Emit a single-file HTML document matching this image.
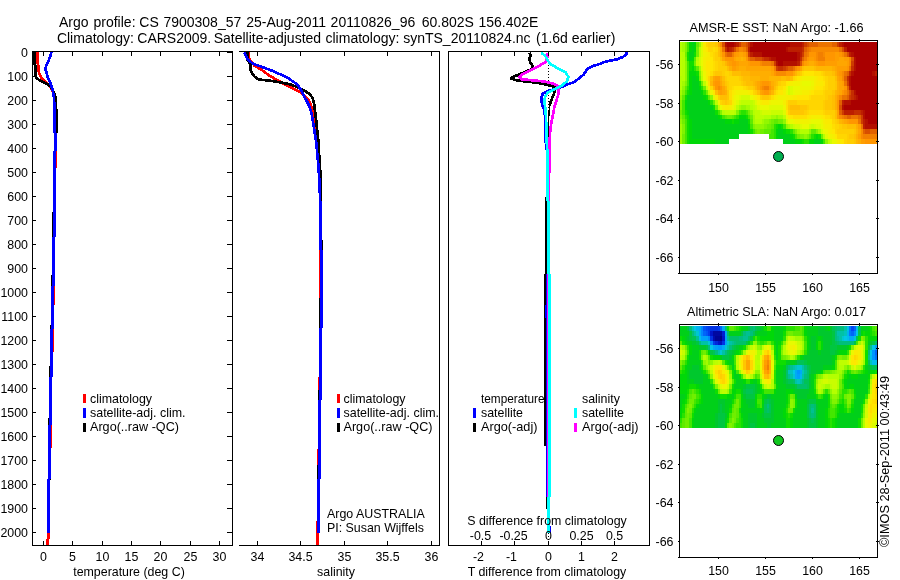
<!DOCTYPE html>
<html lang="en"><head><meta charset="utf-8"><title>Argo profile CS 7900308_57</title>
<style>html,body{margin:0;padding:0;background:#fff;}body{width:900px;height:580px;overflow:hidden;}svg{display:block;font-family:"Liberation Sans", sans-serif;fill:#000;}text{fill:#000;}svg{will-change:transform;}</style></head><body>
<svg width="900" height="580" viewBox="0 0 900 580">
<rect x="0" y="0" width="900" height="580" fill="#fff"/>
<text y="27" font-size="14" xml:space="preserve"><tspan x="59">Argo</tspan> <tspan x="93.5">profile:</tspan> <tspan x="139.3">CS</tspan> <tspan x="163.4">7900308_57</tspan> <tspan x="246.2">25-Aug-2011</tspan> <tspan x="330.6">20110826_96</tspan> <tspan x="421.8">60.802S</tspan> <tspan x="478.5">156.402E</tspan></text>
<text y="43" font-size="14" xml:space="preserve"><tspan x="56.9">Climatology:</tspan> <tspan x="137.3">CARS2009.</tspan> <tspan x="213.7">Satellite-adjusted</tspan> <tspan x="325.5">climatology:</tspan> <tspan x="403.2">synTS_20110824.nc</tspan> <tspan x="536">(1.6d</tspan> <tspan x="571.8">earlier)</tspan></text>
<g shape-rendering="crispEdges">
<polyline points="37.5,52.0 37.5,63.0 38.5,66.0 38.5,71.0 40.0,75.0 42.0,78.5 45.0,81.5 48.0,84.5 51.0,88.0 53.0,92.0 54.5,97.0 55.5,104.0 55.8,133.0" fill="none" stroke="#f00" stroke-width="2.7" stroke-linejoin="round" stroke-linecap="butt" />
<polyline points="34.5,52.0 34.5,64.0 35.5,66.0 35.5,76.0 37.0,78.5 40.0,80.5 44.0,82.5 48.0,84.5 50.5,86.5 52.5,90.0 54.5,94.0 55.8,99.0 56.2,110.0 56.2,133.0" fill="none" stroke="#000" stroke-width="2.7" stroke-linejoin="round" stroke-linecap="butt" />
<polyline points="51.5,52.0 50.0,57.0 48.0,62.0 46.0,66.0 45.5,69.0 46.5,73.0 48.0,78.0 50.0,82.0 51.5,86.0 52.8,91.0 54.0,98.0 54.5,110.0 54.5,133.0" fill="none" stroke="#00f" stroke-width="2.7" stroke-linejoin="round" stroke-linecap="butt" />
<rect x="54" y="133" width="3" height="18" fill="#00f"/>
<rect x="53" y="151" width="3" height="86" fill="#00f"/>
<rect x="52" y="237" width="3" height="49" fill="#00f"/>
<rect x="51" y="286" width="3" height="43" fill="#00f"/>
<rect x="50" y="329" width="3" height="48" fill="#00f"/>
<rect x="49" y="377" width="3" height="48" fill="#00f"/>
<rect x="48" y="425" width="3" height="54" fill="#00f"/>
<rect x="47" y="479" width="3" height="54" fill="#00f"/>
<rect x="56" y="151" width="1" height="17" fill="#f00"/>
<rect x="54" y="286" width="1" height="19" fill="#f00"/>
<rect x="53" y="329" width="1" height="23" fill="#f00"/>
<rect x="51" y="425" width="1" height="23" fill="#f00"/>
<rect x="52" y="212" width="1" height="25" fill="#000"/>
<rect x="51" y="275" width="1" height="11" fill="#000"/>
<rect x="50" y="325" width="1" height="4" fill="#000"/>
<rect x="49" y="366" width="1" height="11" fill="#000"/>
<rect x="48" y="418" width="1" height="7" fill="#000"/>
<rect x="50" y="479" width="1" height="1" fill="#000"/>
<rect x="47" y="533" width="3" height="6" fill="#f00"/>
<rect x="46" y="539" width="3" height="6" fill="#f00"/>
<polyline points="248.4,52.3 248.7,56.6 250.3,60.8 254.6,65.7 261.9,70.0 269.2,75.5 276.6,79.8 283.9,84.0 292.5,88.3 299.8,92.0 305.9,96.9 309.6,101.8 311.8,107.9 313.2,114.0 313.9,118.8 316.3,133.0 318.2,155.0 319.7,178.0 320.5,205.0" fill="none" stroke="#f00" stroke-width="2.7" stroke-linejoin="round" stroke-linecap="butt" />
<polyline points="247.2,52.3 247.2,56.6 247.8,60.2 250.3,63.9 250.3,68.8 252.1,73.7 255.2,77.3 259.4,79.5 271.7,81.0 281.5,82.6 290.0,84.3 297.3,87.1 303.5,90.2 309.6,93.8 312.6,98.1 314.2,104.2 315.1,111.6 316.1,120.0 318.3,140.0 319.5,161.0 320.9,181.0 321.0,202.0" fill="none" stroke="#000" stroke-width="2.7" stroke-linejoin="round" stroke-linecap="butt" />
<polyline points="244.5,52.3 246.0,56.6 248.4,60.2 253.3,63.9 261.9,66.9 271.7,70.6 281.5,74.9 288.8,78.6 294.9,82.8 299.2,87.1 302.8,93.2 305.9,99.3 309.0,105.5 311.4,112.8 312.7,120.0 316.0,140.7 318.0,161.0 319.4,181.0 320.2,201.7 320.5,206.0" fill="none" stroke="#00f" stroke-width="2.7" stroke-linejoin="round" stroke-linecap="butt" />
<rect x="319" y="205" width="3" height="45" fill="#00f"/>
<rect x="320" y="250" width="3" height="78" fill="#00f"/>
<rect x="319" y="328" width="3" height="72" fill="#00f"/>
<rect x="318" y="400" width="3" height="79" fill="#00f"/>
<rect x="317" y="479" width="3" height="54" fill="#00f"/>
<rect x="322" y="240" width="1" height="10" fill="#000"/>
<rect x="319" y="250" width="1" height="48" fill="#f00"/>
<rect x="318" y="377" width="1" height="13" fill="#f00"/>
<rect x="317" y="449" width="1" height="16" fill="#f00"/>
<rect x="316" y="521" width="1" height="12" fill="#f00"/>
<rect x="319" y="298" width="1" height="30" fill="#000"/>
<rect x="318" y="390" width="1" height="10" fill="#000"/>
<rect x="317" y="465" width="1" height="14" fill="#000"/>
<rect x="316" y="533" width="3" height="12" fill="#f00"/>
<rect x="548" y="53" width="1" height="1" fill="#000"/>
<rect x="548" y="56" width="1" height="1" fill="#000"/>
<rect x="548" y="59" width="1" height="1" fill="#000"/>
<rect x="548" y="62" width="1" height="1" fill="#000"/>
<rect x="548" y="65" width="1" height="1" fill="#000"/>
<rect x="548" y="68" width="1" height="1" fill="#000"/>
<rect x="548" y="71" width="1" height="1" fill="#000"/>
<rect x="548" y="74" width="1" height="1" fill="#000"/>
<rect x="548" y="77" width="1" height="1" fill="#000"/>
<rect x="548" y="80" width="1" height="1" fill="#000"/>
<rect x="548" y="83" width="1" height="1" fill="#000"/>
<rect x="548" y="86" width="1" height="1" fill="#000"/>
<rect x="548" y="89" width="1" height="1" fill="#000"/>
<rect x="548" y="92" width="1" height="1" fill="#000"/>
<rect x="548" y="95" width="1" height="1" fill="#000"/>
<rect x="548" y="98" width="1" height="1" fill="#000"/>
<rect x="548" y="101" width="1" height="1" fill="#000"/>
<rect x="548" y="104" width="1" height="1" fill="#000"/>
<rect x="548" y="107" width="1" height="1" fill="#000"/>
<rect x="548" y="110" width="1" height="1" fill="#000"/>
<rect x="548" y="113" width="1" height="1" fill="#000"/>
<rect x="548" y="116" width="1" height="1" fill="#000"/>
<rect x="548" y="119" width="1" height="1" fill="#000"/>
<rect x="548" y="122" width="1" height="1" fill="#000"/>
<rect x="548" y="125" width="1" height="1" fill="#000"/>
<rect x="548" y="128" width="1" height="1" fill="#000"/>
<rect x="548" y="131" width="1" height="1" fill="#000"/>
<rect x="548" y="134" width="1" height="1" fill="#000"/>
<rect x="548" y="137" width="1" height="1" fill="#000"/>
<rect x="548" y="140" width="1" height="1" fill="#000"/>
<rect x="548" y="143" width="1" height="1" fill="#000"/>
<rect x="548" y="146" width="1" height="1" fill="#000"/>
<rect x="548" y="149" width="1" height="1" fill="#000"/>
<rect x="548" y="152" width="1" height="1" fill="#000"/>
<rect x="548" y="155" width="1" height="1" fill="#000"/>
<rect x="548" y="158" width="1" height="1" fill="#000"/>
<rect x="548" y="161" width="1" height="1" fill="#000"/>
<rect x="548" y="164" width="1" height="1" fill="#000"/>
<rect x="548" y="167" width="1" height="1" fill="#000"/>
<rect x="548" y="170" width="1" height="1" fill="#000"/>
<rect x="548" y="173" width="1" height="1" fill="#000"/>
<rect x="548" y="176" width="1" height="1" fill="#000"/>
<rect x="548" y="179" width="1" height="1" fill="#000"/>
<rect x="548" y="182" width="1" height="1" fill="#000"/>
<rect x="548" y="185" width="1" height="1" fill="#000"/>
<rect x="548" y="188" width="1" height="1" fill="#000"/>
<rect x="548" y="191" width="1" height="1" fill="#000"/>
<rect x="548" y="194" width="1" height="1" fill="#000"/>
<rect x="548" y="197" width="1" height="1" fill="#000"/>
<rect x="548" y="200" width="1" height="1" fill="#000"/>
<rect x="548" y="203" width="1" height="1" fill="#000"/>
<rect x="548" y="206" width="1" height="1" fill="#000"/>
<rect x="548" y="209" width="1" height="1" fill="#000"/>
<rect x="548" y="212" width="1" height="1" fill="#000"/>
<rect x="548" y="215" width="1" height="1" fill="#000"/>
<rect x="548" y="218" width="1" height="1" fill="#000"/>
<rect x="548" y="221" width="1" height="1" fill="#000"/>
<rect x="548" y="224" width="1" height="1" fill="#000"/>
<rect x="548" y="227" width="1" height="1" fill="#000"/>
<rect x="548" y="230" width="1" height="1" fill="#000"/>
<rect x="548" y="233" width="1" height="1" fill="#000"/>
<rect x="548" y="236" width="1" height="1" fill="#000"/>
<rect x="548" y="239" width="1" height="1" fill="#000"/>
<rect x="548" y="242" width="1" height="1" fill="#000"/>
<rect x="548" y="245" width="1" height="1" fill="#000"/>
<rect x="548" y="248" width="1" height="1" fill="#000"/>
<rect x="548" y="251" width="1" height="1" fill="#000"/>
<rect x="548" y="254" width="1" height="1" fill="#000"/>
<rect x="548" y="257" width="1" height="1" fill="#000"/>
<rect x="548" y="260" width="1" height="1" fill="#000"/>
<rect x="548" y="263" width="1" height="1" fill="#000"/>
<rect x="548" y="266" width="1" height="1" fill="#000"/>
<rect x="548" y="269" width="1" height="1" fill="#000"/>
<rect x="548" y="272" width="1" height="1" fill="#000"/>
<rect x="548" y="275" width="1" height="1" fill="#000"/>
<rect x="548" y="278" width="1" height="1" fill="#000"/>
<rect x="548" y="281" width="1" height="1" fill="#000"/>
<rect x="548" y="284" width="1" height="1" fill="#000"/>
<rect x="548" y="287" width="1" height="1" fill="#000"/>
<rect x="548" y="290" width="1" height="1" fill="#000"/>
<rect x="548" y="293" width="1" height="1" fill="#000"/>
<rect x="548" y="296" width="1" height="1" fill="#000"/>
<rect x="548" y="299" width="1" height="1" fill="#000"/>
<rect x="548" y="302" width="1" height="1" fill="#000"/>
<rect x="548" y="305" width="1" height="1" fill="#000"/>
<rect x="548" y="308" width="1" height="1" fill="#000"/>
<rect x="548" y="311" width="1" height="1" fill="#000"/>
<rect x="548" y="314" width="1" height="1" fill="#000"/>
<rect x="548" y="317" width="1" height="1" fill="#000"/>
<rect x="548" y="320" width="1" height="1" fill="#000"/>
<rect x="548" y="323" width="1" height="1" fill="#000"/>
<rect x="548" y="326" width="1" height="1" fill="#000"/>
<rect x="548" y="329" width="1" height="1" fill="#000"/>
<rect x="548" y="332" width="1" height="1" fill="#000"/>
<rect x="548" y="335" width="1" height="1" fill="#000"/>
<rect x="548" y="338" width="1" height="1" fill="#000"/>
<rect x="548" y="341" width="1" height="1" fill="#000"/>
<rect x="548" y="344" width="1" height="1" fill="#000"/>
<rect x="548" y="347" width="1" height="1" fill="#000"/>
<rect x="548" y="350" width="1" height="1" fill="#000"/>
<rect x="548" y="353" width="1" height="1" fill="#000"/>
<rect x="548" y="356" width="1" height="1" fill="#000"/>
<rect x="548" y="359" width="1" height="1" fill="#000"/>
<rect x="548" y="362" width="1" height="1" fill="#000"/>
<rect x="548" y="365" width="1" height="1" fill="#000"/>
<rect x="548" y="368" width="1" height="1" fill="#000"/>
<rect x="548" y="371" width="1" height="1" fill="#000"/>
<rect x="548" y="374" width="1" height="1" fill="#000"/>
<rect x="548" y="377" width="1" height="1" fill="#000"/>
<rect x="548" y="380" width="1" height="1" fill="#000"/>
<rect x="548" y="383" width="1" height="1" fill="#000"/>
<rect x="548" y="386" width="1" height="1" fill="#000"/>
<rect x="548" y="389" width="1" height="1" fill="#000"/>
<rect x="548" y="392" width="1" height="1" fill="#000"/>
<rect x="548" y="395" width="1" height="1" fill="#000"/>
<rect x="548" y="398" width="1" height="1" fill="#000"/>
<rect x="548" y="401" width="1" height="1" fill="#000"/>
<rect x="548" y="404" width="1" height="1" fill="#000"/>
<rect x="548" y="407" width="1" height="1" fill="#000"/>
<rect x="548" y="410" width="1" height="1" fill="#000"/>
<rect x="548" y="413" width="1" height="1" fill="#000"/>
<rect x="548" y="416" width="1" height="1" fill="#000"/>
<rect x="548" y="419" width="1" height="1" fill="#000"/>
<rect x="548" y="422" width="1" height="1" fill="#000"/>
<rect x="548" y="425" width="1" height="1" fill="#000"/>
<rect x="548" y="428" width="1" height="1" fill="#000"/>
<rect x="548" y="431" width="1" height="1" fill="#000"/>
<rect x="548" y="434" width="1" height="1" fill="#000"/>
<rect x="548" y="437" width="1" height="1" fill="#000"/>
<rect x="548" y="440" width="1" height="1" fill="#000"/>
<rect x="548" y="443" width="1" height="1" fill="#000"/>
<rect x="548" y="446" width="1" height="1" fill="#000"/>
<rect x="548" y="449" width="1" height="1" fill="#000"/>
<rect x="548" y="452" width="1" height="1" fill="#000"/>
<rect x="548" y="455" width="1" height="1" fill="#000"/>
<rect x="548" y="458" width="1" height="1" fill="#000"/>
<rect x="548" y="461" width="1" height="1" fill="#000"/>
<rect x="548" y="464" width="1" height="1" fill="#000"/>
<rect x="548" y="467" width="1" height="1" fill="#000"/>
<rect x="548" y="470" width="1" height="1" fill="#000"/>
<rect x="548" y="473" width="1" height="1" fill="#000"/>
<rect x="548" y="476" width="1" height="1" fill="#000"/>
<rect x="548" y="479" width="1" height="1" fill="#000"/>
<rect x="548" y="482" width="1" height="1" fill="#000"/>
<rect x="548" y="485" width="1" height="1" fill="#000"/>
<rect x="548" y="488" width="1" height="1" fill="#000"/>
<rect x="548" y="491" width="1" height="1" fill="#000"/>
<rect x="548" y="494" width="1" height="1" fill="#000"/>
<rect x="548" y="497" width="1" height="1" fill="#000"/>
<rect x="548" y="500" width="1" height="1" fill="#000"/>
<rect x="548" y="503" width="1" height="1" fill="#000"/>
<rect x="548" y="506" width="1" height="1" fill="#000"/>
<rect x="548" y="509" width="1" height="1" fill="#000"/>
<rect x="548" y="512" width="1" height="1" fill="#000"/>
<rect x="548" y="515" width="1" height="1" fill="#000"/>
<rect x="548" y="518" width="1" height="1" fill="#000"/>
<rect x="548" y="521" width="1" height="1" fill="#000"/>
<rect x="548" y="524" width="1" height="1" fill="#000"/>
<rect x="548" y="527" width="1" height="1" fill="#000"/>
<rect x="548" y="530" width="1" height="1" fill="#000"/>
<rect x="548" y="533" width="1" height="1" fill="#000"/>
<rect x="548" y="536" width="1" height="1" fill="#000"/>
<rect x="548" y="539" width="1" height="1" fill="#000"/>
<rect x="548" y="542" width="1" height="1" fill="#000"/>
<polyline points="529.5,52.7 530.8,55.0 529.0,58.9 530.5,62.8 532.9,66.7 532.0,69.0 526.0,71.5 520.2,74.0 514.0,76.5 510.9,78.5 515.5,80.0 519.0,80.7 530.5,82.0 542.0,83.6 548.5,85.0 554.0,86.6 555.4,88.6 554.2,93.1 552.3,97.8 550.6,102.4 549.8,106.0" fill="none" stroke="#000" stroke-width="2.7" stroke-linejoin="round" stroke-linecap="butt" />
<polyline points="549.3,105.0 548.8,120.0 548.5,138.0 547.0,170.0 546.0,201.0" fill="none" stroke="#000" stroke-width="1.2" stroke-linejoin="round" stroke-linecap="butt" />
<polyline points="626.8,52.0 626.4,54.7 622.8,57.0 617.4,59.2 610.2,60.6 604.8,61.9 599.5,64.1 593.2,65.9 588.7,68.2 586.0,70.9 583.8,74.5 579.7,77.6 576.1,80.7 571.7,83.0 566.3,84.8 561.8,87.0 557.5,88.3 548.2,90.8 542.8,93.9 541.2,97.8 542.0,104.0 544.3,110.2 545.1,116.4 545.4,138.0 546.5,150.0" fill="none" stroke="#00f" stroke-width="2.7" stroke-linejoin="round" stroke-linecap="butt" />
<polyline points="547.4,52.7 547.4,57.3 545.9,62.0 538.9,65.9 531.1,69.8 523.3,73.7 519.4,76.8 521.0,79.1 531.1,80.2 543.5,81.4 552.9,83.5 558.3,86.1 558.8,93.1 556.8,99.3 554.4,107.1 552.9,114.9 551.3,122.6 550.1,132.0 549.5,145.0 549.3,165.0 548.7,201.0" fill="none" stroke="#f0f" stroke-width="2.7" stroke-linejoin="round" stroke-linecap="butt" />
<rect x="545" y="201" width="2" height="73" fill="#000"/>
<rect x="544" y="274" width="2" height="172" fill="#000"/>
<rect x="546" y="446" width="1" height="63" fill="#000"/>
<rect x="546" y="274" width="2" height="223" fill="#00f"/>
<rect x="545" y="305" width="2" height="13" fill="#00f"/>
<rect x="547" y="274" width="1" height="223" fill="#f0f"/>
<rect x="549" y="236" width="1" height="6" fill="#f0f"/>
<polyline points="541.2,52.7 545.1,55.8 547.4,59.7 549.8,63.5 557.5,68.2 565.3,72.1 568.4,76.8 566.9,81.4 562.2,85.3 554.4,89.2 548.2,92.3 545.1,96.2 544.3,100.9 545.1,107.0 545.9,114.9 546.3,125.8 546.5,138.0 547.2,150.0" fill="none" stroke="#0ff" stroke-width="2.7" stroke-linejoin="round" stroke-linecap="butt" />
<rect x="546" y="150" width="3" height="51" fill="#0ff"/>
<rect x="547" y="201" width="3" height="73" fill="#0ff"/>
<rect x="548" y="274" width="3" height="223" fill="#0ff"/>
<rect x="547" y="497" width="3" height="36" fill="#0ff"/>
<rect x="550" y="526" width="1" height="7" fill="#00f"/>
</g>
<g shape-rendering="crispEdges">
<rect x="32" y="51" width="201" height="1" fill="#000"/>
<rect x="32" y="545" width="200" height="1" fill="#000"/>
<rect x="32" y="51" width="1" height="495" fill="#000"/>
<rect x="232" y="51" width="1" height="495" fill="#000"/>
<rect x="32" y="52" width="4" height="1" fill="#000"/>
<rect x="227" y="52" width="6" height="1" fill="#000"/>
<rect x="32" y="76" width="4" height="1" fill="#000"/>
<rect x="227" y="76" width="6" height="1" fill="#000"/>
<rect x="32" y="100" width="4" height="1" fill="#000"/>
<rect x="227" y="100" width="6" height="1" fill="#000"/>
<rect x="32" y="124" width="4" height="1" fill="#000"/>
<rect x="227" y="124" width="6" height="1" fill="#000"/>
<rect x="32" y="148" width="4" height="1" fill="#000"/>
<rect x="227" y="148" width="6" height="1" fill="#000"/>
<rect x="32" y="172" width="4" height="1" fill="#000"/>
<rect x="227" y="172" width="6" height="1" fill="#000"/>
<rect x="32" y="196" width="4" height="1" fill="#000"/>
<rect x="227" y="196" width="6" height="1" fill="#000"/>
<rect x="32" y="220" width="4" height="1" fill="#000"/>
<rect x="227" y="220" width="6" height="1" fill="#000"/>
<rect x="32" y="244" width="4" height="1" fill="#000"/>
<rect x="227" y="244" width="6" height="1" fill="#000"/>
<rect x="32" y="268" width="4" height="1" fill="#000"/>
<rect x="227" y="268" width="6" height="1" fill="#000"/>
<rect x="32" y="292" width="4" height="1" fill="#000"/>
<rect x="227" y="292" width="6" height="1" fill="#000"/>
<rect x="32" y="316" width="4" height="1" fill="#000"/>
<rect x="227" y="316" width="6" height="1" fill="#000"/>
<rect x="32" y="340" width="4" height="1" fill="#000"/>
<rect x="227" y="340" width="6" height="1" fill="#000"/>
<rect x="32" y="364" width="4" height="1" fill="#000"/>
<rect x="227" y="364" width="6" height="1" fill="#000"/>
<rect x="32" y="388" width="4" height="1" fill="#000"/>
<rect x="227" y="388" width="6" height="1" fill="#000"/>
<rect x="32" y="412" width="4" height="1" fill="#000"/>
<rect x="227" y="412" width="6" height="1" fill="#000"/>
<rect x="32" y="436" width="4" height="1" fill="#000"/>
<rect x="227" y="436" width="6" height="1" fill="#000"/>
<rect x="32" y="460" width="4" height="1" fill="#000"/>
<rect x="227" y="460" width="6" height="1" fill="#000"/>
<rect x="32" y="484" width="4" height="1" fill="#000"/>
<rect x="227" y="484" width="6" height="1" fill="#000"/>
<rect x="32" y="508" width="4" height="1" fill="#000"/>
<rect x="227" y="508" width="6" height="1" fill="#000"/>
<rect x="32" y="532" width="4" height="1" fill="#000"/>
<rect x="227" y="532" width="6" height="1" fill="#000"/>
<rect x="43" y="51" width="1" height="5" fill="#000"/>
<rect x="43" y="541" width="1" height="5" fill="#000"/>
<rect x="72" y="51" width="1" height="5" fill="#000"/>
<rect x="72" y="541" width="1" height="5" fill="#000"/>
<rect x="102" y="51" width="1" height="5" fill="#000"/>
<rect x="102" y="541" width="1" height="5" fill="#000"/>
<rect x="131" y="51" width="1" height="5" fill="#000"/>
<rect x="131" y="541" width="1" height="5" fill="#000"/>
<rect x="160" y="51" width="1" height="5" fill="#000"/>
<rect x="160" y="541" width="1" height="5" fill="#000"/>
<rect x="190" y="51" width="1" height="5" fill="#000"/>
<rect x="190" y="541" width="1" height="5" fill="#000"/>
<rect x="219" y="51" width="1" height="5" fill="#000"/>
<rect x="219" y="541" width="1" height="5" fill="#000"/>
<rect x="239" y="51" width="201" height="1" fill="#000"/>
<rect x="239" y="545" width="200" height="1" fill="#000"/>
<rect x="439" y="51" width="1" height="495" fill="#000"/>
<rect x="257" y="51" width="1" height="5" fill="#000"/>
<rect x="257" y="541" width="1" height="5" fill="#000"/>
<rect x="300" y="51" width="1" height="5" fill="#000"/>
<rect x="300" y="541" width="1" height="5" fill="#000"/>
<rect x="344" y="51" width="1" height="5" fill="#000"/>
<rect x="344" y="541" width="1" height="5" fill="#000"/>
<rect x="387" y="51" width="1" height="5" fill="#000"/>
<rect x="387" y="541" width="1" height="5" fill="#000"/>
<rect x="431" y="51" width="1" height="5" fill="#000"/>
<rect x="431" y="541" width="1" height="5" fill="#000"/>
<rect x="448" y="51" width="202" height="1" fill="#000"/>
<rect x="448" y="545" width="201" height="1" fill="#000"/>
<rect x="448" y="51" width="1" height="495" fill="#000"/>
<rect x="649" y="51" width="1" height="495" fill="#000"/>
<rect x="481" y="51" width="1" height="5" fill="#000"/>
<rect x="481" y="541" width="1" height="5" fill="#000"/>
<rect x="514" y="51" width="1" height="5" fill="#000"/>
<rect x="514" y="541" width="1" height="5" fill="#000"/>
<rect x="548" y="51" width="1" height="5" fill="#000"/>
<rect x="548" y="541" width="1" height="5" fill="#000"/>
<rect x="581" y="51" width="1" height="5" fill="#000"/>
<rect x="581" y="541" width="1" height="5" fill="#000"/>
<rect x="614" y="51" width="1" height="5" fill="#000"/>
<rect x="614" y="541" width="1" height="5" fill="#000"/>
</g>
<text x="28" y="56.5" font-size="12.4" text-anchor="end" >0</text>
<text x="28" y="80.5" font-size="12.4" text-anchor="end" >100</text>
<text x="28" y="104.5" font-size="12.4" text-anchor="end" >200</text>
<text x="28" y="128.5" font-size="12.4" text-anchor="end" >300</text>
<text x="28" y="152.5" font-size="12.4" text-anchor="end" >400</text>
<text x="28" y="176.5" font-size="12.4" text-anchor="end" >500</text>
<text x="28" y="200.5" font-size="12.4" text-anchor="end" >600</text>
<text x="28" y="224.5" font-size="12.4" text-anchor="end" >700</text>
<text x="28" y="248.5" font-size="12.4" text-anchor="end" >800</text>
<text x="28" y="272.5" font-size="12.4" text-anchor="end" >900</text>
<text x="28" y="296.5" font-size="12.4" text-anchor="end" >1000</text>
<text x="28" y="320.5" font-size="12.4" text-anchor="end" >1100</text>
<text x="28" y="344.5" font-size="12.4" text-anchor="end" >1200</text>
<text x="28" y="368.5" font-size="12.4" text-anchor="end" >1300</text>
<text x="28" y="392.5" font-size="12.4" text-anchor="end" >1400</text>
<text x="28" y="416.5" font-size="12.4" text-anchor="end" >1500</text>
<text x="28" y="440.5" font-size="12.4" text-anchor="end" >1600</text>
<text x="28" y="464.5" font-size="12.4" text-anchor="end" >1700</text>
<text x="28" y="488.5" font-size="12.4" text-anchor="end" >1800</text>
<text x="28" y="512.5" font-size="12.4" text-anchor="end" >1900</text>
<text x="28" y="536.5" font-size="12.4" text-anchor="end" >2000</text>
<text x="43.5" y="561" font-size="12.4" text-anchor="middle" >0</text>
<text x="72.5" y="561" font-size="12.4" text-anchor="middle" >5</text>
<text x="102.5" y="561" font-size="12.4" text-anchor="middle" >10</text>
<text x="131.5" y="561" font-size="12.4" text-anchor="middle" >15</text>
<text x="160.5" y="561" font-size="12.4" text-anchor="middle" >20</text>
<text x="190.5" y="561" font-size="12.4" text-anchor="middle" >25</text>
<text x="219.5" y="561" font-size="12.4" text-anchor="middle" >30</text>
<text x="257.5" y="561" font-size="12.4" text-anchor="middle" >34</text>
<text x="300.5" y="561" font-size="12.4" text-anchor="middle" >34.5</text>
<text x="344.5" y="561" font-size="12.4" text-anchor="middle" >35</text>
<text x="387.5" y="561" font-size="12.4" text-anchor="middle" >35.5</text>
<text x="431.5" y="561" font-size="12.4" text-anchor="middle" >36</text>
<text x="478.5" y="561" font-size="12.4" text-anchor="middle" >-2</text>
<text x="511.5" y="561" font-size="12.4" text-anchor="middle" >-1</text>
<text x="548.5" y="561" font-size="12.4" text-anchor="middle" >0</text>
<text x="581.5" y="561" font-size="12.4" text-anchor="middle" >1</text>
<text x="614.5" y="561" font-size="12.4" text-anchor="middle" >2</text>
<text x="129" y="576" font-size="12.4" text-anchor="middle" >temperature (deg C)</text>
<text x="336" y="576" font-size="12.4" text-anchor="middle" >salinity</text>
<text x="547" y="576" font-size="12.4" text-anchor="middle" >T difference from climatology</text>
<text x="547" y="525" font-size="12.4" text-anchor="middle" >S difference from climatology</text>
<text x="480.5" y="539.5" font-size="12.4" text-anchor="middle" >-0.5</text>
<text x="513.5" y="539.5" font-size="12.4" text-anchor="middle" >-0.25</text>
<text x="548.5" y="539.5" font-size="12.4" text-anchor="middle" >0</text>
<text x="581.5" y="539.5" font-size="12.4" text-anchor="middle" >0.25</text>
<text x="614.5" y="539.5" font-size="12.4" text-anchor="middle" >0.5</text>
<g shape-rendering="crispEdges">
<rect x="83" y="394" width="3" height="9" fill="#f00"/>
<rect x="83" y="408" width="3" height="10" fill="#00f"/>
<rect x="83" y="423" width="3" height="9" fill="#000"/>
<rect x="337" y="394" width="3" height="9" fill="#f00"/>
<rect x="337" y="408" width="3" height="10" fill="#00f"/>
<rect x="337" y="423" width="3" height="9" fill="#000"/>
<rect x="473" y="408" width="3" height="10" fill="#00f"/>
<rect x="473" y="423" width="3" height="9" fill="#000"/>
<rect x="574" y="408" width="3" height="10" fill="#0ff"/>
<rect x="574" y="423" width="3" height="9" fill="#f0f"/>
</g>
<text x="90" y="403.4" font-size="12.4" text-anchor="start" >climatology</text>
<text x="90" y="417.4" font-size="12.4" text-anchor="start" textLength="95.5" lengthAdjust="spacingAndGlyphs">satellite-adj. clim.</text>
<text x="90" y="431.4" font-size="12.4" text-anchor="start" textLength="89" lengthAdjust="spacingAndGlyphs">Argo(..raw -QC)</text>
<text x="343.5" y="403.4" font-size="12.4" text-anchor="start" >climatology</text>
<text x="343.5" y="417.4" font-size="12.4" text-anchor="start" textLength="95.5" lengthAdjust="spacingAndGlyphs">satellite-adj. clim.</text>
<text x="343.5" y="431.4" font-size="12.4" text-anchor="start" textLength="89" lengthAdjust="spacingAndGlyphs">Argo(..raw -QC)</text>
<text x="481" y="403.4" font-size="12.4" text-anchor="start" textLength="63.5" lengthAdjust="spacingAndGlyphs">temperature</text>
<text x="481" y="417.4" font-size="12.4" text-anchor="start" >satellite</text>
<text x="481" y="431.4" font-size="12.4" text-anchor="start" textLength="56.5" lengthAdjust="spacingAndGlyphs">Argo(-adj)</text>
<text x="582" y="403.4" font-size="12.4" text-anchor="start" >salinity</text>
<text x="582" y="417.4" font-size="12.4" text-anchor="start" >satellite</text>
<text x="582" y="431.4" font-size="12.4" text-anchor="start" textLength="56.5" lengthAdjust="spacingAndGlyphs">Argo(-adj)</text>
<text x="327" y="518" font-size="12.4" text-anchor="start" >Argo AUSTRALIA</text>
<text x="327" y="532" font-size="12.4" text-anchor="start" >PI: Susan Wijffels</text>
<g shape-rendering="crispEdges">
<rect x="680" y="42" width="2" height="5" fill="#b4ff00"/>
<rect x="682" y="42" width="3" height="5" fill="#a3fb00"/>
<rect x="685" y="42" width="2" height="5" fill="#81f300"/>
<rect x="687" y="42" width="2" height="5" fill="#44e700"/>
<rect x="689" y="42" width="3" height="5" fill="#00d808"/>
<rect x="692" y="42" width="2" height="5" fill="#00d019"/>
<rect x="694" y="42" width="2" height="5" fill="#00d808"/>
<rect x="696" y="42" width="3" height="5" fill="#5feb00"/>
<rect x="699" y="42" width="2" height="5" fill="#92f700"/>
<rect x="701" y="42" width="2" height="5" fill="#d3fc00"/>
<rect x="703" y="42" width="3" height="5" fill="#faea00"/>
<rect x="706" y="42" width="2" height="5" fill="#ffd600"/>
<rect x="708" y="42" width="7" height="5" fill="#ffce00"/>
<rect x="715" y="42" width="3" height="5" fill="#ffc600"/>
<rect x="718" y="42" width="2" height="5" fill="#ffa600"/>
<rect x="720" y="42" width="2" height="5" fill="#f88a00"/>
<rect x="722" y="42" width="3" height="5" fill="#d74e00"/>
<rect x="725" y="42" width="2" height="5" fill="#b30f00"/>
<rect x="727" y="42" width="7" height="5" fill="#aa0000"/>
<rect x="734" y="42" width="2" height="5" fill="#b30f00"/>
<rect x="736" y="42" width="3" height="5" fill="#bc1e00"/>
<rect x="739" y="42" width="2" height="5" fill="#cd3c00"/>
<rect x="741" y="42" width="5" height="5" fill="#e16100"/>
<rect x="746" y="42" width="2" height="5" fill="#d74e00"/>
<rect x="748" y="42" width="2" height="5" fill="#c42d00"/>
<rect x="750" y="42" width="3" height="5" fill="#b30f00"/>
<rect x="753" y="42" width="37" height="5" fill="#aa0000"/>
<rect x="790" y="42" width="12" height="5" fill="#b30f00"/>
<rect x="802" y="42" width="2" height="5" fill="#bc1e00"/>
<rect x="804" y="42" width="3" height="5" fill="#cd3c00"/>
<rect x="807" y="42" width="2" height="5" fill="#d74e00"/>
<rect x="809" y="42" width="9" height="5" fill="#e16100"/>
<rect x="818" y="42" width="14" height="5" fill="#eb7300"/>
<rect x="832" y="42" width="5" height="5" fill="#e16100"/>
<rect x="837" y="42" width="2" height="5" fill="#cd3c00"/>
<rect x="839" y="42" width="3" height="5" fill="#bc1e00"/>
<rect x="842" y="42" width="2" height="5" fill="#b30f00"/>
<rect x="844" y="42" width="33" height="5" fill="#aa0000"/>
<rect x="680" y="47" width="2" height="5" fill="#b4ff00"/>
<rect x="682" y="47" width="3" height="5" fill="#a3fb00"/>
<rect x="685" y="47" width="2" height="5" fill="#81f300"/>
<rect x="687" y="47" width="2" height="5" fill="#44e700"/>
<rect x="689" y="47" width="3" height="5" fill="#00d808"/>
<rect x="692" y="47" width="2" height="5" fill="#00d019"/>
<rect x="694" y="47" width="2" height="5" fill="#00d808"/>
<rect x="696" y="47" width="3" height="5" fill="#70ef00"/>
<rect x="699" y="47" width="2" height="5" fill="#befe00"/>
<rect x="701" y="47" width="2" height="5" fill="#defb00"/>
<rect x="703" y="47" width="3" height="5" fill="#f6ee00"/>
<rect x="706" y="47" width="2" height="5" fill="#ffe600"/>
<rect x="708" y="47" width="5" height="5" fill="#ffd600"/>
<rect x="713" y="47" width="2" height="5" fill="#ffde00"/>
<rect x="715" y="47" width="3" height="5" fill="#ffd600"/>
<rect x="718" y="47" width="2" height="5" fill="#ffbe00"/>
<rect x="720" y="47" width="2" height="5" fill="#ffa600"/>
<rect x="722" y="47" width="3" height="5" fill="#eb7300"/>
<rect x="725" y="47" width="2" height="5" fill="#c42d00"/>
<rect x="727" y="47" width="2" height="5" fill="#b30f00"/>
<rect x="729" y="47" width="3" height="5" fill="#bc1e00"/>
<rect x="732" y="47" width="2" height="5" fill="#c42d00"/>
<rect x="734" y="47" width="2" height="5" fill="#d74e00"/>
<rect x="736" y="47" width="3" height="5" fill="#eb7300"/>
<rect x="739" y="47" width="4" height="5" fill="#f88a00"/>
<rect x="743" y="47" width="3" height="5" fill="#f27f00"/>
<rect x="746" y="47" width="2" height="5" fill="#e16100"/>
<rect x="748" y="47" width="2" height="5" fill="#bc1e00"/>
<rect x="750" y="47" width="36" height="5" fill="#aa0000"/>
<rect x="786" y="47" width="2" height="5" fill="#b30f00"/>
<rect x="788" y="47" width="14" height="5" fill="#bc1e00"/>
<rect x="802" y="47" width="2" height="5" fill="#c42d00"/>
<rect x="804" y="47" width="3" height="5" fill="#e16100"/>
<rect x="807" y="47" width="2" height="5" fill="#eb7300"/>
<rect x="809" y="47" width="2" height="5" fill="#f27f00"/>
<rect x="811" y="47" width="28" height="5" fill="#f88a00"/>
<rect x="839" y="47" width="3" height="5" fill="#eb7300"/>
<rect x="842" y="47" width="2" height="5" fill="#d74e00"/>
<rect x="844" y="47" width="3" height="5" fill="#bc1e00"/>
<rect x="847" y="47" width="30" height="5" fill="#aa0000"/>
<rect x="680" y="52" width="2" height="5" fill="#befe00"/>
<rect x="682" y="52" width="3" height="5" fill="#b4ff00"/>
<rect x="685" y="52" width="2" height="5" fill="#70ef00"/>
<rect x="687" y="52" width="2" height="5" fill="#0ede00"/>
<rect x="689" y="52" width="5" height="5" fill="#00d019"/>
<rect x="694" y="52" width="2" height="5" fill="#0ede00"/>
<rect x="696" y="52" width="3" height="5" fill="#70ef00"/>
<rect x="699" y="52" width="2" height="5" fill="#befe00"/>
<rect x="701" y="52" width="2" height="5" fill="#defb00"/>
<rect x="703" y="52" width="3" height="5" fill="#f1f200"/>
<rect x="706" y="52" width="2" height="5" fill="#f6ee00"/>
<rect x="708" y="52" width="2" height="5" fill="#faea00"/>
<rect x="710" y="52" width="3" height="5" fill="#ffde00"/>
<rect x="713" y="52" width="2" height="5" fill="#ffd600"/>
<rect x="715" y="52" width="3" height="5" fill="#ffce00"/>
<rect x="718" y="52" width="2" height="5" fill="#ffbe00"/>
<rect x="720" y="52" width="2" height="5" fill="#ffae00"/>
<rect x="722" y="52" width="3" height="5" fill="#ff9600"/>
<rect x="725" y="52" width="2" height="5" fill="#eb7300"/>
<rect x="727" y="52" width="5" height="5" fill="#e16100"/>
<rect x="732" y="52" width="2" height="5" fill="#f27f00"/>
<rect x="734" y="52" width="2" height="5" fill="#ff9600"/>
<rect x="736" y="52" width="3" height="5" fill="#ff9e00"/>
<rect x="739" y="52" width="4" height="5" fill="#ffa600"/>
<rect x="743" y="52" width="3" height="5" fill="#ff9e00"/>
<rect x="746" y="52" width="2" height="5" fill="#f88a00"/>
<rect x="748" y="52" width="2" height="5" fill="#cd3c00"/>
<rect x="750" y="52" width="3" height="5" fill="#bc1e00"/>
<rect x="753" y="52" width="9" height="5" fill="#b30f00"/>
<rect x="762" y="52" width="35" height="5" fill="#aa0000"/>
<rect x="797" y="52" width="3" height="5" fill="#b30f00"/>
<rect x="800" y="52" width="2" height="5" fill="#bc1e00"/>
<rect x="802" y="52" width="2" height="5" fill="#cd3c00"/>
<rect x="804" y="52" width="3" height="5" fill="#eb7300"/>
<rect x="807" y="52" width="2" height="5" fill="#f27f00"/>
<rect x="809" y="52" width="7" height="5" fill="#ff9600"/>
<rect x="816" y="52" width="2" height="5" fill="#f88a00"/>
<rect x="818" y="52" width="5" height="5" fill="#f27f00"/>
<rect x="823" y="52" width="2" height="5" fill="#f88a00"/>
<rect x="825" y="52" width="10" height="5" fill="#ff9600"/>
<rect x="835" y="52" width="4" height="5" fill="#ff9e00"/>
<rect x="839" y="52" width="3" height="5" fill="#ff9600"/>
<rect x="842" y="52" width="2" height="5" fill="#f88a00"/>
<rect x="844" y="52" width="3" height="5" fill="#eb7300"/>
<rect x="847" y="52" width="2" height="5" fill="#d74e00"/>
<rect x="849" y="52" width="2" height="5" fill="#bc1e00"/>
<rect x="851" y="52" width="3" height="5" fill="#b30f00"/>
<rect x="854" y="52" width="23" height="5" fill="#aa0000"/>
<rect x="680" y="57" width="2" height="4" fill="#befe00"/>
<rect x="682" y="57" width="3" height="4" fill="#b4ff00"/>
<rect x="685" y="57" width="2" height="4" fill="#81f300"/>
<rect x="687" y="57" width="2" height="4" fill="#0ede00"/>
<rect x="689" y="57" width="3" height="4" fill="#00d019"/>
<rect x="692" y="57" width="2" height="4" fill="#00d808"/>
<rect x="694" y="57" width="2" height="4" fill="#5feb00"/>
<rect x="696" y="57" width="3" height="4" fill="#b4ff00"/>
<rect x="699" y="57" width="2" height="4" fill="#d3fc00"/>
<rect x="701" y="57" width="2" height="4" fill="#e8fa00"/>
<rect x="703" y="57" width="3" height="4" fill="#f6ee00"/>
<rect x="706" y="57" width="4" height="4" fill="#faea00"/>
<rect x="710" y="57" width="3" height="4" fill="#ffe600"/>
<rect x="713" y="57" width="2" height="4" fill="#ffd600"/>
<rect x="715" y="57" width="5" height="4" fill="#ffce00"/>
<rect x="720" y="57" width="2" height="4" fill="#ffbe00"/>
<rect x="722" y="57" width="3" height="4" fill="#ffa600"/>
<rect x="725" y="57" width="9" height="4" fill="#ff9600"/>
<rect x="734" y="57" width="2" height="4" fill="#ffa600"/>
<rect x="736" y="57" width="5" height="4" fill="#ffae00"/>
<rect x="741" y="57" width="2" height="4" fill="#ffb600"/>
<rect x="743" y="57" width="3" height="4" fill="#ffae00"/>
<rect x="746" y="57" width="2" height="4" fill="#ff9600"/>
<rect x="748" y="57" width="2" height="4" fill="#eb7300"/>
<rect x="750" y="57" width="5" height="4" fill="#e16100"/>
<rect x="755" y="57" width="7" height="4" fill="#d74e00"/>
<rect x="762" y="57" width="2" height="4" fill="#cd3c00"/>
<rect x="764" y="57" width="5" height="4" fill="#c42d00"/>
<rect x="769" y="57" width="2" height="4" fill="#bc1e00"/>
<rect x="771" y="57" width="5" height="4" fill="#b30f00"/>
<rect x="776" y="57" width="21" height="4" fill="#aa0000"/>
<rect x="797" y="57" width="3" height="4" fill="#b30f00"/>
<rect x="800" y="57" width="2" height="4" fill="#c42d00"/>
<rect x="802" y="57" width="2" height="4" fill="#e16100"/>
<rect x="804" y="57" width="3" height="4" fill="#f27f00"/>
<rect x="807" y="57" width="2" height="4" fill="#ff9600"/>
<rect x="809" y="57" width="5" height="4" fill="#ff9e00"/>
<rect x="814" y="57" width="2" height="4" fill="#ff9600"/>
<rect x="816" y="57" width="2" height="4" fill="#f88a00"/>
<rect x="818" y="57" width="7" height="4" fill="#f27f00"/>
<rect x="825" y="57" width="10" height="4" fill="#ff9600"/>
<rect x="835" y="57" width="4" height="4" fill="#ff9e00"/>
<rect x="839" y="57" width="5" height="4" fill="#ffa600"/>
<rect x="844" y="57" width="5" height="4" fill="#ff9e00"/>
<rect x="849" y="57" width="2" height="4" fill="#f88a00"/>
<rect x="851" y="57" width="3" height="4" fill="#d74e00"/>
<rect x="854" y="57" width="2" height="4" fill="#b30f00"/>
<rect x="856" y="57" width="21" height="4" fill="#aa0000"/>
<rect x="680" y="61" width="2" height="5" fill="#befe00"/>
<rect x="682" y="61" width="3" height="5" fill="#b4ff00"/>
<rect x="685" y="61" width="2" height="5" fill="#92f700"/>
<rect x="687" y="61" width="2" height="5" fill="#44e700"/>
<rect x="689" y="61" width="5" height="5" fill="#0ede00"/>
<rect x="694" y="61" width="2" height="5" fill="#70ef00"/>
<rect x="696" y="61" width="3" height="5" fill="#befe00"/>
<rect x="699" y="61" width="2" height="5" fill="#d3fc00"/>
<rect x="701" y="61" width="2" height="5" fill="#e8fa00"/>
<rect x="703" y="61" width="3" height="5" fill="#f6ee00"/>
<rect x="706" y="61" width="7" height="5" fill="#ffe600"/>
<rect x="713" y="61" width="2" height="5" fill="#ffde00"/>
<rect x="715" y="61" width="3" height="5" fill="#ffd600"/>
<rect x="718" y="61" width="4" height="5" fill="#ffce00"/>
<rect x="722" y="61" width="3" height="5" fill="#ffc600"/>
<rect x="725" y="61" width="2" height="5" fill="#ffb600"/>
<rect x="727" y="61" width="2" height="5" fill="#ffa600"/>
<rect x="729" y="61" width="3" height="5" fill="#ff9e00"/>
<rect x="732" y="61" width="4" height="5" fill="#ff9600"/>
<rect x="736" y="61" width="3" height="5" fill="#ff9e00"/>
<rect x="739" y="61" width="9" height="5" fill="#ffa600"/>
<rect x="748" y="61" width="2" height="5" fill="#ff9e00"/>
<rect x="750" y="61" width="10" height="5" fill="#ff9600"/>
<rect x="760" y="61" width="2" height="5" fill="#f88a00"/>
<rect x="762" y="61" width="9" height="5" fill="#f27f00"/>
<rect x="771" y="61" width="3" height="5" fill="#eb7300"/>
<rect x="774" y="61" width="2" height="5" fill="#cd3c00"/>
<rect x="776" y="61" width="2" height="5" fill="#b30f00"/>
<rect x="778" y="61" width="5" height="5" fill="#aa0000"/>
<rect x="783" y="61" width="14" height="5" fill="#b30f00"/>
<rect x="797" y="61" width="3" height="5" fill="#bc1e00"/>
<rect x="800" y="61" width="2" height="5" fill="#d74e00"/>
<rect x="802" y="61" width="2" height="5" fill="#f88a00"/>
<rect x="804" y="61" width="3" height="5" fill="#ff9e00"/>
<rect x="807" y="61" width="2" height="5" fill="#ffa600"/>
<rect x="809" y="61" width="5" height="5" fill="#ffae00"/>
<rect x="814" y="61" width="2" height="5" fill="#ffa600"/>
<rect x="816" y="61" width="2" height="5" fill="#ff9e00"/>
<rect x="818" y="61" width="7" height="5" fill="#ff9600"/>
<rect x="825" y="61" width="12" height="5" fill="#ff9e00"/>
<rect x="837" y="61" width="10" height="5" fill="#ffa600"/>
<rect x="847" y="61" width="2" height="5" fill="#ff9e00"/>
<rect x="849" y="61" width="2" height="5" fill="#f88a00"/>
<rect x="851" y="61" width="3" height="5" fill="#cd3c00"/>
<rect x="854" y="61" width="2" height="5" fill="#b30f00"/>
<rect x="856" y="61" width="21" height="5" fill="#aa0000"/>
<rect x="680" y="66" width="2" height="5" fill="#befe00"/>
<rect x="682" y="66" width="3" height="5" fill="#b4ff00"/>
<rect x="685" y="66" width="2" height="5" fill="#92f700"/>
<rect x="687" y="66" width="2" height="5" fill="#44e700"/>
<rect x="689" y="66" width="3" height="5" fill="#0ede00"/>
<rect x="692" y="66" width="2" height="5" fill="#00d808"/>
<rect x="694" y="66" width="2" height="5" fill="#29e200"/>
<rect x="696" y="66" width="3" height="5" fill="#5feb00"/>
<rect x="699" y="66" width="2" height="5" fill="#a3fb00"/>
<rect x="701" y="66" width="2" height="5" fill="#defb00"/>
<rect x="703" y="66" width="3" height="5" fill="#f6ee00"/>
<rect x="706" y="66" width="7" height="5" fill="#ffe600"/>
<rect x="713" y="66" width="2" height="5" fill="#ffde00"/>
<rect x="715" y="66" width="3" height="5" fill="#ffd600"/>
<rect x="718" y="66" width="9" height="5" fill="#ffce00"/>
<rect x="727" y="66" width="2" height="5" fill="#ffbe00"/>
<rect x="729" y="66" width="3" height="5" fill="#ffae00"/>
<rect x="732" y="66" width="4" height="5" fill="#ff9e00"/>
<rect x="736" y="66" width="3" height="5" fill="#ffa600"/>
<rect x="739" y="66" width="7" height="5" fill="#ffae00"/>
<rect x="746" y="66" width="25" height="5" fill="#ffa600"/>
<rect x="771" y="66" width="3" height="5" fill="#ff9e00"/>
<rect x="774" y="66" width="2" height="5" fill="#f27f00"/>
<rect x="776" y="66" width="2" height="5" fill="#cd3c00"/>
<rect x="778" y="66" width="5" height="5" fill="#c42d00"/>
<rect x="783" y="66" width="3" height="5" fill="#cd3c00"/>
<rect x="786" y="66" width="2" height="5" fill="#d74e00"/>
<rect x="788" y="66" width="5" height="5" fill="#e16100"/>
<rect x="793" y="66" width="2" height="5" fill="#eb7300"/>
<rect x="795" y="66" width="2" height="5" fill="#f88a00"/>
<rect x="797" y="66" width="3" height="5" fill="#ff9600"/>
<rect x="800" y="66" width="2" height="5" fill="#ffa600"/>
<rect x="802" y="66" width="2" height="5" fill="#ffbe00"/>
<rect x="804" y="66" width="10" height="5" fill="#ffc600"/>
<rect x="814" y="66" width="2" height="5" fill="#ffbe00"/>
<rect x="816" y="66" width="16" height="5" fill="#ffb600"/>
<rect x="832" y="66" width="3" height="5" fill="#ffae00"/>
<rect x="835" y="66" width="2" height="5" fill="#ffa600"/>
<rect x="837" y="66" width="10" height="5" fill="#ff9e00"/>
<rect x="847" y="66" width="2" height="5" fill="#ff9600"/>
<rect x="849" y="66" width="2" height="5" fill="#eb7300"/>
<rect x="851" y="66" width="3" height="5" fill="#c42d00"/>
<rect x="854" y="66" width="2" height="5" fill="#b30f00"/>
<rect x="856" y="66" width="21" height="5" fill="#aa0000"/>
<rect x="680" y="71" width="2" height="5" fill="#befe00"/>
<rect x="682" y="71" width="3" height="5" fill="#b4ff00"/>
<rect x="685" y="71" width="2" height="5" fill="#92f700"/>
<rect x="687" y="71" width="2" height="5" fill="#44e700"/>
<rect x="689" y="71" width="7" height="5" fill="#00d808"/>
<rect x="696" y="71" width="3" height="5" fill="#0ede00"/>
<rect x="699" y="71" width="2" height="5" fill="#81f300"/>
<rect x="701" y="71" width="2" height="5" fill="#c9fd00"/>
<rect x="703" y="71" width="3" height="5" fill="#edf600"/>
<rect x="706" y="71" width="2" height="5" fill="#faea00"/>
<rect x="708" y="71" width="2" height="5" fill="#ffe600"/>
<rect x="710" y="71" width="3" height="5" fill="#ffde00"/>
<rect x="713" y="71" width="2" height="5" fill="#ffce00"/>
<rect x="715" y="71" width="7" height="5" fill="#ffc600"/>
<rect x="722" y="71" width="3" height="5" fill="#ffce00"/>
<rect x="725" y="71" width="4" height="5" fill="#ffd600"/>
<rect x="729" y="71" width="3" height="5" fill="#ffce00"/>
<rect x="732" y="71" width="9" height="5" fill="#ffbe00"/>
<rect x="741" y="71" width="9" height="5" fill="#ffb600"/>
<rect x="750" y="71" width="21" height="5" fill="#ffae00"/>
<rect x="771" y="71" width="3" height="5" fill="#ffa600"/>
<rect x="774" y="71" width="2" height="5" fill="#ff9600"/>
<rect x="776" y="71" width="10" height="5" fill="#f88a00"/>
<rect x="786" y="71" width="7" height="5" fill="#ff9600"/>
<rect x="793" y="71" width="2" height="5" fill="#ffa600"/>
<rect x="795" y="71" width="2" height="5" fill="#ffb600"/>
<rect x="797" y="71" width="3" height="5" fill="#ffc600"/>
<rect x="800" y="71" width="2" height="5" fill="#ffce00"/>
<rect x="802" y="71" width="2" height="5" fill="#ffde00"/>
<rect x="804" y="71" width="10" height="5" fill="#ffe600"/>
<rect x="814" y="71" width="7" height="5" fill="#ffde00"/>
<rect x="821" y="71" width="2" height="5" fill="#ffd600"/>
<rect x="823" y="71" width="2" height="5" fill="#ffce00"/>
<rect x="825" y="71" width="7" height="5" fill="#ffc600"/>
<rect x="832" y="71" width="3" height="5" fill="#ffbe00"/>
<rect x="835" y="71" width="2" height="5" fill="#ffae00"/>
<rect x="837" y="71" width="2" height="5" fill="#ff9e00"/>
<rect x="839" y="71" width="3" height="5" fill="#ff9600"/>
<rect x="842" y="71" width="2" height="5" fill="#f88a00"/>
<rect x="844" y="71" width="3" height="5" fill="#eb7300"/>
<rect x="847" y="71" width="2" height="5" fill="#e16100"/>
<rect x="849" y="71" width="2" height="5" fill="#c42d00"/>
<rect x="851" y="71" width="3" height="5" fill="#b30f00"/>
<rect x="854" y="71" width="18" height="5" fill="#aa0000"/>
<rect x="872" y="71" width="3" height="5" fill="#b30f00"/>
<rect x="875" y="71" width="2" height="5" fill="#bc1e00"/>
<rect x="680" y="76" width="5" height="5" fill="#b4ff00"/>
<rect x="685" y="76" width="2" height="5" fill="#92f700"/>
<rect x="687" y="76" width="2" height="5" fill="#44e700"/>
<rect x="689" y="76" width="3" height="5" fill="#00d808"/>
<rect x="692" y="76" width="4" height="5" fill="#00d019"/>
<rect x="696" y="76" width="3" height="5" fill="#00d808"/>
<rect x="699" y="76" width="2" height="5" fill="#70ef00"/>
<rect x="701" y="76" width="2" height="5" fill="#befe00"/>
<rect x="703" y="76" width="3" height="5" fill="#e8fa00"/>
<rect x="706" y="76" width="2" height="5" fill="#faea00"/>
<rect x="708" y="76" width="2" height="5" fill="#ffd600"/>
<rect x="710" y="76" width="3" height="5" fill="#ffbe00"/>
<rect x="713" y="76" width="2" height="5" fill="#ffa600"/>
<rect x="715" y="76" width="5" height="5" fill="#ff9e00"/>
<rect x="720" y="76" width="2" height="5" fill="#ffae00"/>
<rect x="722" y="76" width="3" height="5" fill="#ffbe00"/>
<rect x="725" y="76" width="2" height="5" fill="#ffce00"/>
<rect x="727" y="76" width="12" height="5" fill="#ffd600"/>
<rect x="739" y="76" width="2" height="5" fill="#ffce00"/>
<rect x="741" y="76" width="2" height="5" fill="#ffc600"/>
<rect x="743" y="76" width="7" height="5" fill="#ffbe00"/>
<rect x="750" y="76" width="10" height="5" fill="#ffb600"/>
<rect x="760" y="76" width="9" height="5" fill="#ffae00"/>
<rect x="769" y="76" width="12" height="5" fill="#ffb600"/>
<rect x="781" y="76" width="5" height="5" fill="#ffbe00"/>
<rect x="786" y="76" width="4" height="5" fill="#ffb600"/>
<rect x="790" y="76" width="3" height="5" fill="#ffbe00"/>
<rect x="793" y="76" width="2" height="5" fill="#ffd600"/>
<rect x="795" y="76" width="2" height="5" fill="#ffde00"/>
<rect x="797" y="76" width="3" height="5" fill="#ffe600"/>
<rect x="800" y="76" width="2" height="5" fill="#f6ee00"/>
<rect x="802" y="76" width="12" height="5" fill="#f1f200"/>
<rect x="814" y="76" width="2" height="5" fill="#f6ee00"/>
<rect x="816" y="76" width="2" height="5" fill="#faea00"/>
<rect x="818" y="76" width="5" height="5" fill="#ffe600"/>
<rect x="823" y="76" width="2" height="5" fill="#ffde00"/>
<rect x="825" y="76" width="3" height="5" fill="#ffd600"/>
<rect x="828" y="76" width="7" height="5" fill="#ffce00"/>
<rect x="835" y="76" width="2" height="5" fill="#ffbe00"/>
<rect x="837" y="76" width="2" height="5" fill="#ffa600"/>
<rect x="839" y="76" width="3" height="5" fill="#ff9e00"/>
<rect x="842" y="76" width="2" height="5" fill="#f88a00"/>
<rect x="844" y="76" width="3" height="5" fill="#e16100"/>
<rect x="847" y="76" width="2" height="5" fill="#c42d00"/>
<rect x="849" y="76" width="2" height="5" fill="#b30f00"/>
<rect x="851" y="76" width="26" height="5" fill="#aa0000"/>
<rect x="680" y="81" width="2" height="5" fill="#b4ff00"/>
<rect x="682" y="81" width="3" height="5" fill="#a3fb00"/>
<rect x="685" y="81" width="2" height="5" fill="#81f300"/>
<rect x="687" y="81" width="2" height="5" fill="#44e700"/>
<rect x="689" y="81" width="3" height="5" fill="#00d808"/>
<rect x="692" y="81" width="7" height="5" fill="#00d019"/>
<rect x="699" y="81" width="2" height="5" fill="#0ede00"/>
<rect x="701" y="81" width="2" height="5" fill="#70ef00"/>
<rect x="703" y="81" width="3" height="5" fill="#befe00"/>
<rect x="706" y="81" width="2" height="5" fill="#e8fa00"/>
<rect x="708" y="81" width="2" height="5" fill="#ffde00"/>
<rect x="710" y="81" width="3" height="5" fill="#ffb600"/>
<rect x="713" y="81" width="2" height="5" fill="#ff9e00"/>
<rect x="715" y="81" width="5" height="5" fill="#ff9600"/>
<rect x="720" y="81" width="2" height="5" fill="#ffa600"/>
<rect x="722" y="81" width="3" height="5" fill="#ffb600"/>
<rect x="725" y="81" width="2" height="5" fill="#ffc600"/>
<rect x="727" y="81" width="2" height="5" fill="#ffce00"/>
<rect x="729" y="81" width="12" height="5" fill="#ffd600"/>
<rect x="741" y="81" width="2" height="5" fill="#ffce00"/>
<rect x="743" y="81" width="3" height="5" fill="#ffc600"/>
<rect x="746" y="81" width="7" height="5" fill="#ffbe00"/>
<rect x="753" y="81" width="2" height="5" fill="#ffb600"/>
<rect x="755" y="81" width="2" height="5" fill="#ffae00"/>
<rect x="757" y="81" width="3" height="5" fill="#ffa600"/>
<rect x="760" y="81" width="2" height="5" fill="#ff9e00"/>
<rect x="762" y="81" width="7" height="5" fill="#ff9600"/>
<rect x="769" y="81" width="2" height="5" fill="#ff9e00"/>
<rect x="771" y="81" width="3" height="5" fill="#ffae00"/>
<rect x="774" y="81" width="2" height="5" fill="#ffb600"/>
<rect x="776" y="81" width="2" height="5" fill="#ffbe00"/>
<rect x="778" y="81" width="3" height="5" fill="#ffce00"/>
<rect x="781" y="81" width="5" height="5" fill="#ffd600"/>
<rect x="786" y="81" width="2" height="5" fill="#ffe600"/>
<rect x="788" y="81" width="2" height="5" fill="#faea00"/>
<rect x="790" y="81" width="3" height="5" fill="#f6ee00"/>
<rect x="793" y="81" width="7" height="5" fill="#f1f200"/>
<rect x="800" y="81" width="2" height="5" fill="#edf600"/>
<rect x="802" y="81" width="9" height="5" fill="#e8fa00"/>
<rect x="811" y="81" width="3" height="5" fill="#edf600"/>
<rect x="814" y="81" width="2" height="5" fill="#f6ee00"/>
<rect x="816" y="81" width="7" height="5" fill="#faea00"/>
<rect x="823" y="81" width="2" height="5" fill="#ffe600"/>
<rect x="825" y="81" width="3" height="5" fill="#ffd600"/>
<rect x="828" y="81" width="7" height="5" fill="#ffce00"/>
<rect x="835" y="81" width="2" height="5" fill="#ffc600"/>
<rect x="837" y="81" width="2" height="5" fill="#ffae00"/>
<rect x="839" y="81" width="3" height="5" fill="#ffa600"/>
<rect x="842" y="81" width="2" height="5" fill="#ff9e00"/>
<rect x="844" y="81" width="3" height="5" fill="#eb7300"/>
<rect x="847" y="81" width="2" height="5" fill="#cd3c00"/>
<rect x="849" y="81" width="2" height="5" fill="#b30f00"/>
<rect x="851" y="81" width="26" height="5" fill="#aa0000"/>
<rect x="680" y="86" width="2" height="4" fill="#b4ff00"/>
<rect x="682" y="86" width="3" height="4" fill="#92f700"/>
<rect x="685" y="86" width="2" height="4" fill="#5feb00"/>
<rect x="687" y="86" width="2" height="4" fill="#29e200"/>
<rect x="689" y="86" width="3" height="4" fill="#00d808"/>
<rect x="692" y="86" width="7" height="4" fill="#00d019"/>
<rect x="699" y="86" width="2" height="4" fill="#00d808"/>
<rect x="701" y="86" width="2" height="4" fill="#29e200"/>
<rect x="703" y="86" width="3" height="4" fill="#70ef00"/>
<rect x="706" y="86" width="2" height="4" fill="#c9fd00"/>
<rect x="708" y="86" width="2" height="4" fill="#f6ee00"/>
<rect x="710" y="86" width="3" height="4" fill="#ffd600"/>
<rect x="713" y="86" width="2" height="4" fill="#ffb600"/>
<rect x="715" y="86" width="3" height="4" fill="#ff9600"/>
<rect x="718" y="86" width="2" height="4" fill="#f88a00"/>
<rect x="720" y="86" width="2" height="4" fill="#ff9600"/>
<rect x="722" y="86" width="3" height="4" fill="#ffa600"/>
<rect x="725" y="86" width="2" height="4" fill="#ffb600"/>
<rect x="727" y="86" width="2" height="4" fill="#ffce00"/>
<rect x="729" y="86" width="3" height="4" fill="#ffd600"/>
<rect x="732" y="86" width="2" height="4" fill="#ffde00"/>
<rect x="734" y="86" width="9" height="4" fill="#ffe600"/>
<rect x="743" y="86" width="3" height="4" fill="#ffde00"/>
<rect x="746" y="86" width="2" height="4" fill="#ffd600"/>
<rect x="748" y="86" width="5" height="4" fill="#ffce00"/>
<rect x="753" y="86" width="2" height="4" fill="#ffc600"/>
<rect x="755" y="86" width="2" height="4" fill="#ffb600"/>
<rect x="757" y="86" width="3" height="4" fill="#ffa600"/>
<rect x="760" y="86" width="2" height="4" fill="#ff9600"/>
<rect x="762" y="86" width="2" height="4" fill="#f88a00"/>
<rect x="764" y="86" width="5" height="4" fill="#f27f00"/>
<rect x="769" y="86" width="2" height="4" fill="#ff9600"/>
<rect x="771" y="86" width="3" height="4" fill="#ffa600"/>
<rect x="774" y="86" width="2" height="4" fill="#ffbe00"/>
<rect x="776" y="86" width="2" height="4" fill="#ffce00"/>
<rect x="778" y="86" width="5" height="4" fill="#ffde00"/>
<rect x="783" y="86" width="3" height="4" fill="#ffe600"/>
<rect x="786" y="86" width="2" height="4" fill="#edf600"/>
<rect x="788" y="86" width="2" height="4" fill="#d3fc00"/>
<rect x="790" y="86" width="3" height="4" fill="#defb00"/>
<rect x="793" y="86" width="7" height="4" fill="#e8fa00"/>
<rect x="800" y="86" width="11" height="4" fill="#edf600"/>
<rect x="811" y="86" width="3" height="4" fill="#f1f200"/>
<rect x="814" y="86" width="2" height="4" fill="#faea00"/>
<rect x="816" y="86" width="7" height="4" fill="#ffe600"/>
<rect x="823" y="86" width="2" height="4" fill="#ffde00"/>
<rect x="825" y="86" width="3" height="4" fill="#ffd600"/>
<rect x="828" y="86" width="7" height="4" fill="#ffce00"/>
<rect x="835" y="86" width="2" height="4" fill="#ffc600"/>
<rect x="837" y="86" width="2" height="4" fill="#ffae00"/>
<rect x="839" y="86" width="5" height="4" fill="#ffa600"/>
<rect x="844" y="86" width="3" height="4" fill="#ff9600"/>
<rect x="847" y="86" width="2" height="4" fill="#e16100"/>
<rect x="849" y="86" width="2" height="4" fill="#bc1e00"/>
<rect x="851" y="86" width="26" height="4" fill="#aa0000"/>
<rect x="680" y="90" width="2" height="5" fill="#a3fb00"/>
<rect x="682" y="90" width="3" height="5" fill="#81f300"/>
<rect x="685" y="90" width="2" height="5" fill="#44e700"/>
<rect x="687" y="90" width="2" height="5" fill="#0ede00"/>
<rect x="689" y="90" width="3" height="5" fill="#00d808"/>
<rect x="692" y="90" width="9" height="5" fill="#00d019"/>
<rect x="701" y="90" width="2" height="5" fill="#00d808"/>
<rect x="703" y="90" width="3" height="5" fill="#29e200"/>
<rect x="706" y="90" width="2" height="5" fill="#70ef00"/>
<rect x="708" y="90" width="2" height="5" fill="#befe00"/>
<rect x="710" y="90" width="3" height="5" fill="#edf600"/>
<rect x="713" y="90" width="2" height="5" fill="#ffe600"/>
<rect x="715" y="90" width="3" height="5" fill="#ffbe00"/>
<rect x="718" y="90" width="2" height="5" fill="#ffa600"/>
<rect x="720" y="90" width="2" height="5" fill="#ff9e00"/>
<rect x="722" y="90" width="3" height="5" fill="#ffa600"/>
<rect x="725" y="90" width="2" height="5" fill="#ffae00"/>
<rect x="727" y="90" width="2" height="5" fill="#ffc600"/>
<rect x="729" y="90" width="3" height="5" fill="#ffde00"/>
<rect x="732" y="90" width="2" height="5" fill="#faea00"/>
<rect x="734" y="90" width="2" height="5" fill="#f6ee00"/>
<rect x="736" y="90" width="12" height="5" fill="#f1f200"/>
<rect x="748" y="90" width="2" height="5" fill="#f6ee00"/>
<rect x="750" y="90" width="3" height="5" fill="#ffe600"/>
<rect x="753" y="90" width="2" height="5" fill="#ffd600"/>
<rect x="755" y="90" width="2" height="5" fill="#ffce00"/>
<rect x="757" y="90" width="3" height="5" fill="#ffbe00"/>
<rect x="760" y="90" width="2" height="5" fill="#ffa600"/>
<rect x="762" y="90" width="2" height="5" fill="#ff9e00"/>
<rect x="764" y="90" width="5" height="5" fill="#ff9600"/>
<rect x="769" y="90" width="2" height="5" fill="#ffa600"/>
<rect x="771" y="90" width="3" height="5" fill="#ffb600"/>
<rect x="774" y="90" width="2" height="5" fill="#ffce00"/>
<rect x="776" y="90" width="2" height="5" fill="#ffde00"/>
<rect x="778" y="90" width="5" height="5" fill="#ffe600"/>
<rect x="783" y="90" width="3" height="5" fill="#f6ee00"/>
<rect x="786" y="90" width="2" height="5" fill="#e8fa00"/>
<rect x="788" y="90" width="2" height="5" fill="#d3fc00"/>
<rect x="790" y="90" width="3" height="5" fill="#defb00"/>
<rect x="793" y="90" width="2" height="5" fill="#e8fa00"/>
<rect x="795" y="90" width="5" height="5" fill="#edf600"/>
<rect x="800" y="90" width="2" height="5" fill="#f1f200"/>
<rect x="802" y="90" width="7" height="5" fill="#f6ee00"/>
<rect x="809" y="90" width="2" height="5" fill="#faea00"/>
<rect x="811" y="90" width="3" height="5" fill="#ffe600"/>
<rect x="814" y="90" width="9" height="5" fill="#ffde00"/>
<rect x="823" y="90" width="2" height="5" fill="#ffd600"/>
<rect x="825" y="90" width="7" height="5" fill="#ffce00"/>
<rect x="832" y="90" width="3" height="5" fill="#ffc600"/>
<rect x="835" y="90" width="2" height="5" fill="#ffb600"/>
<rect x="837" y="90" width="2" height="5" fill="#ffae00"/>
<rect x="839" y="90" width="3" height="5" fill="#ffa600"/>
<rect x="842" y="90" width="2" height="5" fill="#ff9600"/>
<rect x="844" y="90" width="3" height="5" fill="#f88a00"/>
<rect x="847" y="90" width="2" height="5" fill="#eb7300"/>
<rect x="849" y="90" width="2" height="5" fill="#d74e00"/>
<rect x="851" y="90" width="3" height="5" fill="#c42d00"/>
<rect x="854" y="90" width="2" height="5" fill="#b30f00"/>
<rect x="856" y="90" width="21" height="5" fill="#aa0000"/>
<rect x="680" y="95" width="2" height="5" fill="#92f700"/>
<rect x="682" y="95" width="3" height="5" fill="#5feb00"/>
<rect x="685" y="95" width="2" height="5" fill="#0ede00"/>
<rect x="687" y="95" width="16" height="5" fill="#00d019"/>
<rect x="703" y="95" width="3" height="5" fill="#00d808"/>
<rect x="706" y="95" width="2" height="5" fill="#0ede00"/>
<rect x="708" y="95" width="2" height="5" fill="#5feb00"/>
<rect x="710" y="95" width="3" height="5" fill="#92f700"/>
<rect x="713" y="95" width="2" height="5" fill="#defb00"/>
<rect x="715" y="95" width="3" height="5" fill="#faea00"/>
<rect x="718" y="95" width="2" height="5" fill="#ffce00"/>
<rect x="720" y="95" width="7" height="5" fill="#ffbe00"/>
<rect x="727" y="95" width="2" height="5" fill="#ffc600"/>
<rect x="729" y="95" width="3" height="5" fill="#ffde00"/>
<rect x="732" y="95" width="2" height="5" fill="#f6ee00"/>
<rect x="734" y="95" width="2" height="5" fill="#edf600"/>
<rect x="736" y="95" width="3" height="5" fill="#e8fa00"/>
<rect x="739" y="95" width="2" height="5" fill="#defb00"/>
<rect x="741" y="95" width="9" height="5" fill="#d3fc00"/>
<rect x="750" y="95" width="3" height="5" fill="#e8fa00"/>
<rect x="753" y="95" width="2" height="5" fill="#f1f200"/>
<rect x="755" y="95" width="2" height="5" fill="#f6ee00"/>
<rect x="757" y="95" width="3" height="5" fill="#ffe600"/>
<rect x="760" y="95" width="2" height="5" fill="#ffce00"/>
<rect x="762" y="95" width="7" height="5" fill="#ffc600"/>
<rect x="769" y="95" width="2" height="5" fill="#ffce00"/>
<rect x="771" y="95" width="3" height="5" fill="#ffde00"/>
<rect x="774" y="95" width="2" height="5" fill="#faea00"/>
<rect x="776" y="95" width="2" height="5" fill="#f6ee00"/>
<rect x="778" y="95" width="8" height="5" fill="#f1f200"/>
<rect x="786" y="95" width="7" height="5" fill="#f6ee00"/>
<rect x="793" y="95" width="4" height="5" fill="#faea00"/>
<rect x="797" y="95" width="12" height="5" fill="#ffe600"/>
<rect x="809" y="95" width="2" height="5" fill="#ffde00"/>
<rect x="811" y="95" width="14" height="5" fill="#ffd600"/>
<rect x="825" y="95" width="3" height="5" fill="#ffce00"/>
<rect x="828" y="95" width="4" height="5" fill="#ffc600"/>
<rect x="832" y="95" width="3" height="5" fill="#ffbe00"/>
<rect x="835" y="95" width="2" height="5" fill="#ffae00"/>
<rect x="837" y="95" width="2" height="5" fill="#ff9e00"/>
<rect x="839" y="95" width="3" height="5" fill="#f88a00"/>
<rect x="842" y="95" width="5" height="5" fill="#eb7300"/>
<rect x="847" y="95" width="2" height="5" fill="#e16100"/>
<rect x="849" y="95" width="2" height="5" fill="#cd3c00"/>
<rect x="851" y="95" width="3" height="5" fill="#c42d00"/>
<rect x="854" y="95" width="2" height="5" fill="#bc1e00"/>
<rect x="856" y="95" width="2" height="5" fill="#b30f00"/>
<rect x="858" y="95" width="19" height="5" fill="#aa0000"/>
<rect x="680" y="100" width="2" height="5" fill="#81f300"/>
<rect x="682" y="100" width="3" height="5" fill="#44e700"/>
<rect x="685" y="100" width="2" height="5" fill="#00d808"/>
<rect x="687" y="100" width="21" height="5" fill="#00d019"/>
<rect x="708" y="100" width="2" height="5" fill="#00d808"/>
<rect x="710" y="100" width="3" height="5" fill="#29e200"/>
<rect x="713" y="100" width="2" height="5" fill="#70ef00"/>
<rect x="715" y="100" width="3" height="5" fill="#befe00"/>
<rect x="718" y="100" width="2" height="5" fill="#f1f200"/>
<rect x="720" y="100" width="2" height="5" fill="#ffd600"/>
<rect x="722" y="100" width="3" height="5" fill="#ffce00"/>
<rect x="725" y="100" width="2" height="5" fill="#ffc600"/>
<rect x="727" y="100" width="2" height="5" fill="#ffce00"/>
<rect x="729" y="100" width="3" height="5" fill="#ffd600"/>
<rect x="732" y="100" width="2" height="5" fill="#f6ee00"/>
<rect x="734" y="100" width="2" height="5" fill="#edf600"/>
<rect x="736" y="100" width="3" height="5" fill="#defb00"/>
<rect x="739" y="100" width="2" height="5" fill="#c9fd00"/>
<rect x="741" y="100" width="12" height="5" fill="#befe00"/>
<rect x="753" y="100" width="2" height="5" fill="#c9fd00"/>
<rect x="755" y="100" width="2" height="5" fill="#defb00"/>
<rect x="757" y="100" width="3" height="5" fill="#edf600"/>
<rect x="760" y="100" width="2" height="5" fill="#f6ee00"/>
<rect x="762" y="100" width="7" height="5" fill="#faea00"/>
<rect x="769" y="100" width="2" height="5" fill="#f1f200"/>
<rect x="771" y="100" width="12" height="5" fill="#edf600"/>
<rect x="783" y="100" width="3" height="5" fill="#f6ee00"/>
<rect x="786" y="100" width="2" height="5" fill="#ffde00"/>
<rect x="788" y="100" width="9" height="5" fill="#ffce00"/>
<rect x="797" y="100" width="26" height="5" fill="#ffd600"/>
<rect x="823" y="100" width="2" height="5" fill="#ffce00"/>
<rect x="825" y="100" width="7" height="5" fill="#ffc600"/>
<rect x="832" y="100" width="3" height="5" fill="#ffbe00"/>
<rect x="835" y="100" width="2" height="5" fill="#ffae00"/>
<rect x="837" y="100" width="2" height="5" fill="#ff9600"/>
<rect x="839" y="100" width="3" height="5" fill="#e16100"/>
<rect x="842" y="100" width="2" height="5" fill="#bc1e00"/>
<rect x="844" y="100" width="7" height="5" fill="#b30f00"/>
<rect x="851" y="100" width="26" height="5" fill="#aa0000"/>
<rect x="680" y="105" width="2" height="5" fill="#81f300"/>
<rect x="682" y="105" width="3" height="5" fill="#44e700"/>
<rect x="685" y="105" width="2" height="5" fill="#00d808"/>
<rect x="687" y="105" width="26" height="5" fill="#00d019"/>
<rect x="713" y="105" width="2" height="5" fill="#0ede00"/>
<rect x="715" y="105" width="3" height="5" fill="#70ef00"/>
<rect x="718" y="105" width="2" height="5" fill="#c9fd00"/>
<rect x="720" y="105" width="2" height="5" fill="#e8fa00"/>
<rect x="722" y="105" width="3" height="5" fill="#f6ee00"/>
<rect x="725" y="105" width="4" height="5" fill="#faea00"/>
<rect x="729" y="105" width="3" height="5" fill="#f6ee00"/>
<rect x="732" y="105" width="2" height="5" fill="#edf600"/>
<rect x="734" y="105" width="2" height="5" fill="#defb00"/>
<rect x="736" y="105" width="3" height="5" fill="#befe00"/>
<rect x="739" y="105" width="2" height="5" fill="#a3fb00"/>
<rect x="741" y="105" width="5" height="5" fill="#92f700"/>
<rect x="746" y="105" width="4" height="5" fill="#a3fb00"/>
<rect x="750" y="105" width="3" height="5" fill="#b4ff00"/>
<rect x="753" y="105" width="2" height="5" fill="#befe00"/>
<rect x="755" y="105" width="2" height="5" fill="#c9fd00"/>
<rect x="757" y="105" width="3" height="5" fill="#defb00"/>
<rect x="760" y="105" width="9" height="5" fill="#e8fa00"/>
<rect x="769" y="105" width="14" height="5" fill="#defb00"/>
<rect x="783" y="105" width="3" height="5" fill="#edf600"/>
<rect x="786" y="105" width="2" height="5" fill="#ffde00"/>
<rect x="788" y="105" width="2" height="5" fill="#ffc600"/>
<rect x="790" y="105" width="10" height="5" fill="#ffbe00"/>
<rect x="800" y="105" width="7" height="5" fill="#ffc600"/>
<rect x="807" y="105" width="2" height="5" fill="#ffce00"/>
<rect x="809" y="105" width="14" height="5" fill="#ffd600"/>
<rect x="823" y="105" width="2" height="5" fill="#ffce00"/>
<rect x="825" y="105" width="7" height="5" fill="#ffc600"/>
<rect x="832" y="105" width="3" height="5" fill="#ffbe00"/>
<rect x="835" y="105" width="2" height="5" fill="#ffae00"/>
<rect x="837" y="105" width="2" height="5" fill="#ff9600"/>
<rect x="839" y="105" width="3" height="5" fill="#d74e00"/>
<rect x="842" y="105" width="2" height="5" fill="#b30f00"/>
<rect x="844" y="105" width="33" height="5" fill="#aa0000"/>
<rect x="680" y="110" width="2" height="5" fill="#70ef00"/>
<rect x="682" y="110" width="3" height="5" fill="#44e700"/>
<rect x="685" y="110" width="2" height="5" fill="#0ede00"/>
<rect x="687" y="110" width="2" height="5" fill="#00d808"/>
<rect x="689" y="110" width="26" height="5" fill="#00d019"/>
<rect x="715" y="110" width="3" height="5" fill="#0ede00"/>
<rect x="718" y="110" width="2" height="5" fill="#44e700"/>
<rect x="720" y="110" width="2" height="5" fill="#81f300"/>
<rect x="722" y="110" width="3" height="5" fill="#b4ff00"/>
<rect x="725" y="110" width="9" height="5" fill="#befe00"/>
<rect x="734" y="110" width="2" height="5" fill="#b4ff00"/>
<rect x="736" y="110" width="3" height="5" fill="#81f300"/>
<rect x="739" y="110" width="2" height="5" fill="#44e700"/>
<rect x="741" y="110" width="5" height="5" fill="#29e200"/>
<rect x="746" y="110" width="2" height="5" fill="#44e700"/>
<rect x="748" y="110" width="2" height="5" fill="#70ef00"/>
<rect x="750" y="110" width="3" height="5" fill="#92f700"/>
<rect x="753" y="110" width="2" height="5" fill="#b4ff00"/>
<rect x="755" y="110" width="5" height="5" fill="#befe00"/>
<rect x="760" y="110" width="2" height="5" fill="#c9fd00"/>
<rect x="762" y="110" width="9" height="5" fill="#d3fc00"/>
<rect x="771" y="110" width="12" height="5" fill="#c9fd00"/>
<rect x="783" y="110" width="3" height="5" fill="#defb00"/>
<rect x="786" y="110" width="2" height="5" fill="#ffe600"/>
<rect x="788" y="110" width="2" height="5" fill="#ffce00"/>
<rect x="790" y="110" width="14" height="5" fill="#ffc600"/>
<rect x="804" y="110" width="3" height="5" fill="#ffce00"/>
<rect x="807" y="110" width="2" height="5" fill="#ffd600"/>
<rect x="809" y="110" width="14" height="5" fill="#ffde00"/>
<rect x="823" y="110" width="2" height="5" fill="#ffd600"/>
<rect x="825" y="110" width="10" height="5" fill="#ffce00"/>
<rect x="835" y="110" width="2" height="5" fill="#ffbe00"/>
<rect x="837" y="110" width="2" height="5" fill="#ff9e00"/>
<rect x="839" y="110" width="3" height="5" fill="#e16100"/>
<rect x="842" y="110" width="2" height="5" fill="#cd3c00"/>
<rect x="844" y="110" width="10" height="5" fill="#bc1e00"/>
<rect x="854" y="110" width="7" height="5" fill="#c42d00"/>
<rect x="861" y="110" width="2" height="5" fill="#bc1e00"/>
<rect x="863" y="110" width="2" height="5" fill="#b30f00"/>
<rect x="865" y="110" width="12" height="5" fill="#aa0000"/>
<rect x="680" y="115" width="2" height="4" fill="#81f300"/>
<rect x="682" y="115" width="3" height="4" fill="#5feb00"/>
<rect x="685" y="115" width="2" height="4" fill="#29e200"/>
<rect x="687" y="115" width="2" height="4" fill="#0ede00"/>
<rect x="689" y="115" width="29" height="4" fill="#00d019"/>
<rect x="718" y="115" width="2" height="4" fill="#00d808"/>
<rect x="720" y="115" width="2" height="4" fill="#0ede00"/>
<rect x="722" y="115" width="3" height="4" fill="#44e700"/>
<rect x="725" y="115" width="2" height="4" fill="#5feb00"/>
<rect x="727" y="115" width="5" height="4" fill="#70ef00"/>
<rect x="732" y="115" width="2" height="4" fill="#5feb00"/>
<rect x="734" y="115" width="2" height="4" fill="#44e700"/>
<rect x="736" y="115" width="3" height="4" fill="#29e200"/>
<rect x="739" y="115" width="7" height="4" fill="#00d808"/>
<rect x="746" y="115" width="2" height="4" fill="#0ede00"/>
<rect x="748" y="115" width="2" height="4" fill="#44e700"/>
<rect x="750" y="115" width="3" height="4" fill="#70ef00"/>
<rect x="753" y="115" width="2" height="4" fill="#a3fb00"/>
<rect x="755" y="115" width="9" height="4" fill="#befe00"/>
<rect x="764" y="115" width="7" height="4" fill="#b4ff00"/>
<rect x="771" y="115" width="5" height="4" fill="#a3fb00"/>
<rect x="776" y="115" width="2" height="4" fill="#92f700"/>
<rect x="778" y="115" width="5" height="4" fill="#a3fb00"/>
<rect x="783" y="115" width="3" height="4" fill="#befe00"/>
<rect x="786" y="115" width="2" height="4" fill="#edf600"/>
<rect x="788" y="115" width="2" height="4" fill="#faea00"/>
<rect x="790" y="115" width="3" height="4" fill="#ffe600"/>
<rect x="793" y="115" width="14" height="4" fill="#ffde00"/>
<rect x="807" y="115" width="2" height="4" fill="#ffe600"/>
<rect x="809" y="115" width="2" height="4" fill="#faea00"/>
<rect x="811" y="115" width="10" height="4" fill="#f6ee00"/>
<rect x="821" y="115" width="2" height="4" fill="#faea00"/>
<rect x="823" y="115" width="2" height="4" fill="#ffe600"/>
<rect x="825" y="115" width="5" height="4" fill="#ffde00"/>
<rect x="830" y="115" width="2" height="4" fill="#ffd600"/>
<rect x="832" y="115" width="3" height="4" fill="#ffce00"/>
<rect x="835" y="115" width="2" height="4" fill="#ffbe00"/>
<rect x="837" y="115" width="2" height="4" fill="#ff9e00"/>
<rect x="839" y="115" width="3" height="4" fill="#f88a00"/>
<rect x="842" y="115" width="2" height="4" fill="#f27f00"/>
<rect x="844" y="115" width="3" height="4" fill="#eb7300"/>
<rect x="847" y="115" width="4" height="4" fill="#e16100"/>
<rect x="851" y="115" width="7" height="4" fill="#eb7300"/>
<rect x="858" y="115" width="3" height="4" fill="#e16100"/>
<rect x="861" y="115" width="2" height="4" fill="#cd3c00"/>
<rect x="863" y="115" width="2" height="4" fill="#b30f00"/>
<rect x="865" y="115" width="12" height="4" fill="#aa0000"/>
<rect x="680" y="119" width="2" height="5" fill="#92f700"/>
<rect x="682" y="119" width="3" height="5" fill="#70ef00"/>
<rect x="685" y="119" width="2" height="5" fill="#44e700"/>
<rect x="687" y="119" width="2" height="5" fill="#0ede00"/>
<rect x="689" y="119" width="3" height="5" fill="#00d808"/>
<rect x="692" y="119" width="33" height="5" fill="#00d019"/>
<rect x="725" y="119" width="7" height="5" fill="#00d808"/>
<rect x="732" y="119" width="2" height="5" fill="#0ede00"/>
<rect x="734" y="119" width="5" height="5" fill="#00d808"/>
<rect x="739" y="119" width="9" height="5" fill="#00d019"/>
<rect x="748" y="119" width="2" height="5" fill="#0ede00"/>
<rect x="750" y="119" width="3" height="5" fill="#5feb00"/>
<rect x="753" y="119" width="2" height="5" fill="#a3fb00"/>
<rect x="755" y="119" width="7" height="5" fill="#b4ff00"/>
<rect x="762" y="119" width="2" height="5" fill="#a3fb00"/>
<rect x="764" y="119" width="5" height="5" fill="#92f700"/>
<rect x="769" y="119" width="2" height="5" fill="#81f300"/>
<rect x="771" y="119" width="3" height="5" fill="#70ef00"/>
<rect x="774" y="119" width="4" height="5" fill="#5feb00"/>
<rect x="778" y="119" width="5" height="5" fill="#70ef00"/>
<rect x="783" y="119" width="3" height="5" fill="#92f700"/>
<rect x="786" y="119" width="2" height="5" fill="#d3fc00"/>
<rect x="788" y="119" width="5" height="5" fill="#e8fa00"/>
<rect x="793" y="119" width="2" height="5" fill="#edf600"/>
<rect x="795" y="119" width="14" height="5" fill="#f1f200"/>
<rect x="809" y="119" width="2" height="5" fill="#edf600"/>
<rect x="811" y="119" width="10" height="5" fill="#e8fa00"/>
<rect x="821" y="119" width="2" height="5" fill="#edf600"/>
<rect x="823" y="119" width="2" height="5" fill="#f6ee00"/>
<rect x="825" y="119" width="5" height="5" fill="#faea00"/>
<rect x="830" y="119" width="2" height="5" fill="#ffe600"/>
<rect x="832" y="119" width="3" height="5" fill="#ffd600"/>
<rect x="835" y="119" width="2" height="5" fill="#ffce00"/>
<rect x="837" y="119" width="2" height="5" fill="#ffc600"/>
<rect x="839" y="119" width="3" height="5" fill="#ffb600"/>
<rect x="842" y="119" width="2" height="5" fill="#ffae00"/>
<rect x="844" y="119" width="3" height="5" fill="#ffa600"/>
<rect x="847" y="119" width="2" height="5" fill="#ff9e00"/>
<rect x="849" y="119" width="9" height="5" fill="#ff9600"/>
<rect x="858" y="119" width="3" height="5" fill="#eb7300"/>
<rect x="861" y="119" width="2" height="5" fill="#cd3c00"/>
<rect x="863" y="119" width="2" height="5" fill="#bc1e00"/>
<rect x="865" y="119" width="3" height="5" fill="#b30f00"/>
<rect x="868" y="119" width="9" height="5" fill="#aa0000"/>
<rect x="680" y="124" width="2" height="5" fill="#a3fb00"/>
<rect x="682" y="124" width="3" height="5" fill="#81f300"/>
<rect x="685" y="124" width="2" height="5" fill="#44e700"/>
<rect x="687" y="124" width="2" height="5" fill="#0ede00"/>
<rect x="689" y="124" width="3" height="5" fill="#00d808"/>
<rect x="692" y="124" width="56" height="5" fill="#00d019"/>
<rect x="748" y="124" width="2" height="5" fill="#00d808"/>
<rect x="750" y="124" width="3" height="5" fill="#44e700"/>
<rect x="753" y="124" width="2" height="5" fill="#81f300"/>
<rect x="755" y="124" width="9" height="5" fill="#92f700"/>
<rect x="764" y="124" width="3" height="5" fill="#81f300"/>
<rect x="767" y="124" width="4" height="5" fill="#70ef00"/>
<rect x="771" y="124" width="3" height="5" fill="#5feb00"/>
<rect x="774" y="124" width="2" height="5" fill="#29e200"/>
<rect x="776" y="124" width="2" height="5" fill="#0ede00"/>
<rect x="778" y="124" width="3" height="5" fill="#00d808"/>
<rect x="781" y="124" width="2" height="5" fill="#0ede00"/>
<rect x="783" y="124" width="3" height="5" fill="#44e700"/>
<rect x="786" y="124" width="2" height="5" fill="#92f700"/>
<rect x="788" y="124" width="2" height="5" fill="#a3fb00"/>
<rect x="790" y="124" width="3" height="5" fill="#b4ff00"/>
<rect x="793" y="124" width="2" height="5" fill="#c9fd00"/>
<rect x="795" y="124" width="5" height="5" fill="#d3fc00"/>
<rect x="800" y="124" width="2" height="5" fill="#defb00"/>
<rect x="802" y="124" width="7" height="5" fill="#e8fa00"/>
<rect x="809" y="124" width="2" height="5" fill="#d3fc00"/>
<rect x="811" y="124" width="3" height="5" fill="#c9fd00"/>
<rect x="814" y="124" width="2" height="5" fill="#d3fc00"/>
<rect x="816" y="124" width="5" height="5" fill="#defb00"/>
<rect x="821" y="124" width="2" height="5" fill="#e8fa00"/>
<rect x="823" y="124" width="2" height="5" fill="#f1f200"/>
<rect x="825" y="124" width="5" height="5" fill="#f6ee00"/>
<rect x="830" y="124" width="2" height="5" fill="#faea00"/>
<rect x="832" y="124" width="3" height="5" fill="#ffde00"/>
<rect x="835" y="124" width="4" height="5" fill="#ffd600"/>
<rect x="839" y="124" width="3" height="5" fill="#ffce00"/>
<rect x="842" y="124" width="5" height="5" fill="#ffc600"/>
<rect x="847" y="124" width="9" height="5" fill="#ffbe00"/>
<rect x="856" y="124" width="2" height="5" fill="#ffae00"/>
<rect x="858" y="124" width="3" height="5" fill="#ff9e00"/>
<rect x="861" y="124" width="2" height="5" fill="#eb7300"/>
<rect x="863" y="124" width="2" height="5" fill="#bc1e00"/>
<rect x="865" y="124" width="12" height="5" fill="#b30f00"/>
<rect x="680" y="129" width="2" height="5" fill="#a3fb00"/>
<rect x="682" y="129" width="3" height="5" fill="#81f300"/>
<rect x="685" y="129" width="2" height="5" fill="#44e700"/>
<rect x="687" y="129" width="2" height="5" fill="#0ede00"/>
<rect x="689" y="129" width="3" height="5" fill="#00d808"/>
<rect x="692" y="129" width="56" height="5" fill="#00d019"/>
<rect x="748" y="129" width="2" height="5" fill="#00d808"/>
<rect x="750" y="129" width="3" height="5" fill="#0ede00"/>
<rect x="753" y="129" width="2" height="5" fill="#44e700"/>
<rect x="755" y="129" width="2" height="5" fill="#70ef00"/>
<rect x="757" y="129" width="3" height="5" fill="#81f300"/>
<rect x="760" y="129" width="4" height="5" fill="#70ef00"/>
<rect x="764" y="129" width="7" height="5" fill="#5feb00"/>
<rect x="771" y="129" width="3" height="5" fill="#44e700"/>
<rect x="774" y="129" width="2" height="5" fill="#29e200"/>
<rect x="776" y="129" width="2" height="5" fill="#00d808"/>
<rect x="778" y="129" width="5" height="5" fill="#00d019"/>
<rect x="783" y="129" width="3" height="5" fill="#00d808"/>
<rect x="786" y="129" width="4" height="5" fill="#0ede00"/>
<rect x="790" y="129" width="3" height="5" fill="#29e200"/>
<rect x="793" y="129" width="2" height="5" fill="#5feb00"/>
<rect x="795" y="129" width="2" height="5" fill="#81f300"/>
<rect x="797" y="129" width="3" height="5" fill="#a3fb00"/>
<rect x="800" y="129" width="9" height="5" fill="#b4ff00"/>
<rect x="809" y="129" width="2" height="5" fill="#92f700"/>
<rect x="811" y="129" width="5" height="5" fill="#5feb00"/>
<rect x="816" y="129" width="2" height="5" fill="#81f300"/>
<rect x="818" y="129" width="3" height="5" fill="#a3fb00"/>
<rect x="821" y="129" width="2" height="5" fill="#d3fc00"/>
<rect x="823" y="129" width="2" height="5" fill="#e8fa00"/>
<rect x="825" y="129" width="3" height="5" fill="#edf600"/>
<rect x="828" y="129" width="2" height="5" fill="#f6ee00"/>
<rect x="830" y="129" width="2" height="5" fill="#faea00"/>
<rect x="832" y="129" width="3" height="5" fill="#ffe600"/>
<rect x="835" y="129" width="2" height="5" fill="#ffd600"/>
<rect x="837" y="129" width="17" height="5" fill="#ffce00"/>
<rect x="854" y="129" width="2" height="5" fill="#ffc600"/>
<rect x="856" y="129" width="2" height="5" fill="#ffb600"/>
<rect x="858" y="129" width="3" height="5" fill="#ffa600"/>
<rect x="861" y="129" width="2" height="5" fill="#f88a00"/>
<rect x="863" y="129" width="2" height="5" fill="#e16100"/>
<rect x="865" y="129" width="5" height="5" fill="#d74e00"/>
<rect x="870" y="129" width="7" height="5" fill="#e16100"/>
<rect x="680" y="134" width="2" height="5" fill="#a3fb00"/>
<rect x="682" y="134" width="3" height="5" fill="#70ef00"/>
<rect x="685" y="134" width="2" height="5" fill="#44e700"/>
<rect x="687" y="134" width="2" height="5" fill="#0ede00"/>
<rect x="689" y="134" width="3" height="5" fill="#00d808"/>
<rect x="692" y="134" width="47" height="5" fill="#00d019"/>
<rect x="769" y="134" width="5" height="5" fill="#44e700"/>
<rect x="774" y="134" width="2" height="5" fill="#29e200"/>
<rect x="776" y="134" width="2" height="5" fill="#00d808"/>
<rect x="778" y="134" width="12" height="5" fill="#00d019"/>
<rect x="790" y="134" width="3" height="5" fill="#00d808"/>
<rect x="793" y="134" width="2" height="5" fill="#0ede00"/>
<rect x="795" y="134" width="2" height="5" fill="#44e700"/>
<rect x="797" y="134" width="3" height="5" fill="#70ef00"/>
<rect x="800" y="134" width="4" height="5" fill="#81f300"/>
<rect x="804" y="134" width="3" height="5" fill="#92f700"/>
<rect x="807" y="134" width="2" height="5" fill="#81f300"/>
<rect x="809" y="134" width="2" height="5" fill="#5feb00"/>
<rect x="811" y="134" width="3" height="5" fill="#29e200"/>
<rect x="814" y="134" width="2" height="5" fill="#0ede00"/>
<rect x="816" y="134" width="2" height="5" fill="#00d808"/>
<rect x="818" y="134" width="3" height="5" fill="#0ede00"/>
<rect x="821" y="134" width="2" height="5" fill="#70ef00"/>
<rect x="823" y="134" width="2" height="5" fill="#b4ff00"/>
<rect x="825" y="134" width="3" height="5" fill="#defb00"/>
<rect x="828" y="134" width="2" height="5" fill="#edf600"/>
<rect x="830" y="134" width="2" height="5" fill="#f1f200"/>
<rect x="832" y="134" width="3" height="5" fill="#f6ee00"/>
<rect x="835" y="134" width="2" height="5" fill="#ffe600"/>
<rect x="837" y="134" width="10" height="5" fill="#ffd600"/>
<rect x="847" y="134" width="2" height="5" fill="#ffce00"/>
<rect x="849" y="134" width="5" height="5" fill="#ffc600"/>
<rect x="854" y="134" width="2" height="5" fill="#ffbe00"/>
<rect x="856" y="134" width="2" height="5" fill="#ffae00"/>
<rect x="858" y="134" width="3" height="5" fill="#ff9e00"/>
<rect x="861" y="134" width="2" height="5" fill="#f88a00"/>
<rect x="863" y="134" width="14" height="5" fill="#f27f00"/>
<rect x="680" y="139" width="2" height="5" fill="#a3fb00"/>
<rect x="682" y="139" width="3" height="5" fill="#70ef00"/>
<rect x="685" y="139" width="2" height="5" fill="#44e700"/>
<rect x="687" y="139" width="2" height="5" fill="#0ede00"/>
<rect x="689" y="139" width="26" height="5" fill="#00d808"/>
<rect x="715" y="139" width="14" height="5" fill="#00d019"/>
<rect x="783" y="139" width="12" height="5" fill="#00d019"/>
<rect x="795" y="139" width="7" height="5" fill="#00d808"/>
<rect x="802" y="139" width="2" height="5" fill="#0ede00"/>
<rect x="804" y="139" width="5" height="5" fill="#29e200"/>
<rect x="809" y="139" width="5" height="5" fill="#00d808"/>
<rect x="814" y="139" width="7" height="5" fill="#00d019"/>
<rect x="821" y="139" width="2" height="5" fill="#00d808"/>
<rect x="823" y="139" width="2" height="5" fill="#44e700"/>
<rect x="825" y="139" width="3" height="5" fill="#92f700"/>
<rect x="828" y="139" width="2" height="5" fill="#befe00"/>
<rect x="830" y="139" width="2" height="5" fill="#d3fc00"/>
<rect x="832" y="139" width="3" height="5" fill="#e8fa00"/>
<rect x="835" y="139" width="2" height="5" fill="#edf600"/>
<rect x="837" y="139" width="2" height="5" fill="#f6ee00"/>
<rect x="839" y="139" width="3" height="5" fill="#faea00"/>
<rect x="842" y="139" width="2" height="5" fill="#ffe600"/>
<rect x="844" y="139" width="3" height="5" fill="#ffd600"/>
<rect x="847" y="139" width="7" height="5" fill="#ffce00"/>
<rect x="854" y="139" width="2" height="5" fill="#ffc600"/>
<rect x="856" y="139" width="2" height="5" fill="#ffb600"/>
<rect x="858" y="139" width="3" height="5" fill="#ffae00"/>
<rect x="861" y="139" width="4" height="5" fill="#ff9e00"/>
<rect x="865" y="139" width="12" height="5" fill="#ff9600"/>
</g>
<g shape-rendering="crispEdges">
<rect x="679" y="40" width="199" height="1" fill="#000"/>
<rect x="678" y="273" width="200" height="1" fill="#000"/>
<rect x="679" y="40" width="1" height="234" fill="#000"/>
<rect x="877" y="40" width="1" height="234" fill="#000"/>
<rect x="718" y="39" width="1" height="3" fill="#000"/>
<rect x="718" y="273" width="1" height="2" fill="#000"/>
<rect x="765" y="39" width="1" height="3" fill="#000"/>
<rect x="765" y="273" width="1" height="2" fill="#000"/>
<rect x="812" y="39" width="1" height="3" fill="#000"/>
<rect x="812" y="273" width="1" height="2" fill="#000"/>
<rect x="859" y="39" width="1" height="3" fill="#000"/>
<rect x="859" y="273" width="1" height="2" fill="#000"/>
<rect x="678" y="64" width="2" height="1" fill="#000"/>
<rect x="876" y="64" width="3" height="1" fill="#000"/>
<rect x="678" y="103" width="2" height="1" fill="#000"/>
<rect x="876" y="103" width="3" height="1" fill="#000"/>
<rect x="678" y="141" width="2" height="1" fill="#000"/>
<rect x="876" y="141" width="3" height="1" fill="#000"/>
<rect x="678" y="180" width="2" height="1" fill="#000"/>
<rect x="876" y="180" width="3" height="1" fill="#000"/>
<rect x="678" y="218" width="2" height="1" fill="#000"/>
<rect x="876" y="218" width="3" height="1" fill="#000"/>
<rect x="678" y="257" width="2" height="1" fill="#000"/>
<rect x="876" y="257" width="3" height="1" fill="#000"/>
</g>
<text x="673.5" y="69" font-size="12.4" text-anchor="end" >-56</text>
<text x="673.5" y="108" font-size="12.4" text-anchor="end" >-58</text>
<text x="673.5" y="146" font-size="12.4" text-anchor="end" >-60</text>
<text x="673.5" y="185" font-size="12.4" text-anchor="end" >-62</text>
<text x="673.5" y="223" font-size="12.4" text-anchor="end" >-64</text>
<text x="673.5" y="262" font-size="12.4" text-anchor="end" >-66</text>
<text x="718.5" y="292" font-size="12.4" text-anchor="middle" >150</text>
<text x="765.5" y="292" font-size="12.4" text-anchor="middle" >155</text>
<text x="812.5" y="292" font-size="12.4" text-anchor="middle" >160</text>
<text x="859.5" y="292" font-size="12.4" text-anchor="middle" >165</text>
<text x="776.5" y="32" font-size="12.4" text-anchor="middle" textLength="174" lengthAdjust="spacingAndGlyphs">AMSR-E SST: NaN Argo: -1.66</text>
<circle cx="778.5" cy="156.5" r="5" fill="#00b050" stroke="#000" stroke-width="1"/>
<g shape-rendering="crispEdges">
<rect x="680" y="326" width="7" height="5" fill="#00d019"/>
<rect x="687" y="326" width="2" height="5" fill="#00c641"/>
<rect x="689" y="326" width="3" height="5" fill="#00be7d"/>
<rect x="692" y="326" width="2" height="5" fill="#00c4bc"/>
<rect x="694" y="326" width="2" height="5" fill="#00c8e6"/>
<rect x="696" y="326" width="3" height="5" fill="#00b4f0"/>
<rect x="699" y="326" width="2" height="5" fill="#00aaf5"/>
<rect x="701" y="326" width="2" height="5" fill="#0086fd"/>
<rect x="703" y="326" width="3" height="5" fill="#0056f7"/>
<rect x="706" y="326" width="2" height="5" fill="#0046f5"/>
<rect x="708" y="326" width="2" height="5" fill="#003cec"/>
<rect x="710" y="326" width="8" height="5" fill="#0032e3"/>
<rect x="718" y="326" width="2" height="5" fill="#003cec"/>
<rect x="720" y="326" width="2" height="5" fill="#0066f9"/>
<rect x="722" y="326" width="3" height="5" fill="#00aaf5"/>
<rect x="725" y="326" width="2" height="5" fill="#00be7d"/>
<rect x="727" y="326" width="2" height="5" fill="#0ede00"/>
<rect x="729" y="326" width="5" height="5" fill="#5feb00"/>
<rect x="734" y="326" width="2" height="5" fill="#44e700"/>
<rect x="736" y="326" width="3" height="5" fill="#29e200"/>
<rect x="739" y="326" width="2" height="5" fill="#0ede00"/>
<rect x="741" y="326" width="2" height="5" fill="#00d808"/>
<rect x="743" y="326" width="5" height="5" fill="#00d019"/>
<rect x="748" y="326" width="2" height="5" fill="#00c641"/>
<rect x="750" y="326" width="3" height="5" fill="#00c069"/>
<rect x="753" y="326" width="2" height="5" fill="#00be7d"/>
<rect x="755" y="326" width="2" height="5" fill="#00c355"/>
<rect x="757" y="326" width="3" height="5" fill="#00c641"/>
<rect x="760" y="326" width="2" height="5" fill="#00c82d"/>
<rect x="762" y="326" width="2" height="5" fill="#00d019"/>
<rect x="764" y="326" width="3" height="5" fill="#0ede00"/>
<rect x="767" y="326" width="4" height="5" fill="#44e700"/>
<rect x="771" y="326" width="3" height="5" fill="#00d808"/>
<rect x="774" y="326" width="9" height="5" fill="#00d019"/>
<rect x="783" y="326" width="3" height="5" fill="#00d808"/>
<rect x="786" y="326" width="9" height="5" fill="#29e200"/>
<rect x="795" y="326" width="5" height="5" fill="#44e700"/>
<rect x="800" y="326" width="2" height="5" fill="#5feb00"/>
<rect x="802" y="326" width="2" height="5" fill="#44e700"/>
<rect x="804" y="326" width="3" height="5" fill="#00d808"/>
<rect x="807" y="326" width="11" height="5" fill="#00d019"/>
<rect x="818" y="326" width="7" height="5" fill="#00c82d"/>
<rect x="825" y="326" width="3" height="5" fill="#00d019"/>
<rect x="828" y="326" width="2" height="5" fill="#00d808"/>
<rect x="830" y="326" width="2" height="5" fill="#00c82d"/>
<rect x="832" y="326" width="3" height="5" fill="#00c355"/>
<rect x="835" y="326" width="2" height="5" fill="#00c069"/>
<rect x="837" y="326" width="7" height="5" fill="#00be7d"/>
<rect x="844" y="326" width="3" height="5" fill="#00c2a7"/>
<rect x="847" y="326" width="2" height="5" fill="#00beeb"/>
<rect x="849" y="326" width="2" height="5" fill="#0076fb"/>
<rect x="851" y="326" width="3" height="5" fill="#0046f5"/>
<rect x="854" y="326" width="2" height="5" fill="#0066f9"/>
<rect x="856" y="326" width="2" height="5" fill="#00beeb"/>
<rect x="858" y="326" width="3" height="5" fill="#00c355"/>
<rect x="861" y="326" width="7" height="5" fill="#00d019"/>
<rect x="868" y="326" width="2" height="5" fill="#00d808"/>
<rect x="870" y="326" width="2" height="5" fill="#0ede00"/>
<rect x="872" y="326" width="3" height="5" fill="#44e700"/>
<rect x="875" y="326" width="2" height="5" fill="#5feb00"/>
<rect x="680" y="331" width="9" height="5" fill="#00d019"/>
<rect x="689" y="331" width="3" height="5" fill="#00c641"/>
<rect x="692" y="331" width="2" height="5" fill="#00be7d"/>
<rect x="694" y="331" width="2" height="5" fill="#00c2a7"/>
<rect x="696" y="331" width="3" height="5" fill="#00c6d1"/>
<rect x="699" y="331" width="2" height="5" fill="#00aaf5"/>
<rect x="701" y="331" width="2" height="5" fill="#0086fd"/>
<rect x="703" y="331" width="3" height="5" fill="#0066f9"/>
<rect x="706" y="331" width="2" height="5" fill="#0056f7"/>
<rect x="708" y="331" width="2" height="5" fill="#003cec"/>
<rect x="710" y="331" width="3" height="5" fill="#0014c8"/>
<rect x="713" y="331" width="9" height="5" fill="#0008a1"/>
<rect x="722" y="331" width="3" height="5" fill="#001ed1"/>
<rect x="725" y="331" width="2" height="5" fill="#00aaf5"/>
<rect x="727" y="331" width="2" height="5" fill="#00c069"/>
<rect x="729" y="331" width="12" height="5" fill="#00d019"/>
<rect x="741" y="331" width="2" height="5" fill="#00c641"/>
<rect x="743" y="331" width="3" height="5" fill="#00be7d"/>
<rect x="746" y="331" width="4" height="5" fill="#00c092"/>
<rect x="750" y="331" width="3" height="5" fill="#00be7d"/>
<rect x="753" y="331" width="2" height="5" fill="#00c355"/>
<rect x="755" y="331" width="2" height="5" fill="#00c82d"/>
<rect x="757" y="331" width="10" height="5" fill="#00d019"/>
<rect x="767" y="331" width="7" height="5" fill="#00d808"/>
<rect x="774" y="331" width="9" height="5" fill="#00d019"/>
<rect x="783" y="331" width="3" height="5" fill="#0ede00"/>
<rect x="786" y="331" width="2" height="5" fill="#5feb00"/>
<rect x="788" y="331" width="5" height="5" fill="#70ef00"/>
<rect x="793" y="331" width="9" height="5" fill="#5feb00"/>
<rect x="802" y="331" width="2" height="5" fill="#44e700"/>
<rect x="804" y="331" width="3" height="5" fill="#00d808"/>
<rect x="807" y="331" width="11" height="5" fill="#00d019"/>
<rect x="818" y="331" width="14" height="5" fill="#00c82d"/>
<rect x="832" y="331" width="3" height="5" fill="#00c641"/>
<rect x="835" y="331" width="2" height="5" fill="#00be7d"/>
<rect x="837" y="331" width="7" height="5" fill="#00c2a7"/>
<rect x="844" y="331" width="3" height="5" fill="#00c4bc"/>
<rect x="847" y="331" width="2" height="5" fill="#00b4f0"/>
<rect x="849" y="331" width="2" height="5" fill="#0076fb"/>
<rect x="851" y="331" width="3" height="5" fill="#0066f9"/>
<rect x="854" y="331" width="2" height="5" fill="#0086fd"/>
<rect x="856" y="331" width="2" height="5" fill="#00c8e6"/>
<rect x="858" y="331" width="3" height="5" fill="#00c355"/>
<rect x="861" y="331" width="2" height="5" fill="#00d808"/>
<rect x="863" y="331" width="2" height="5" fill="#0ede00"/>
<rect x="865" y="331" width="5" height="5" fill="#00d808"/>
<rect x="870" y="331" width="2" height="5" fill="#0ede00"/>
<rect x="872" y="331" width="3" height="5" fill="#29e200"/>
<rect x="875" y="331" width="2" height="5" fill="#44e700"/>
<rect x="680" y="336" width="2" height="5" fill="#0ede00"/>
<rect x="682" y="336" width="3" height="5" fill="#00d808"/>
<rect x="685" y="336" width="2" height="5" fill="#00d019"/>
<rect x="687" y="336" width="2" height="5" fill="#00c82d"/>
<rect x="689" y="336" width="3" height="5" fill="#00c641"/>
<rect x="692" y="336" width="4" height="5" fill="#00c355"/>
<rect x="696" y="336" width="3" height="5" fill="#00c092"/>
<rect x="699" y="336" width="2" height="5" fill="#00beeb"/>
<rect x="701" y="336" width="7" height="5" fill="#00a0fa"/>
<rect x="708" y="336" width="2" height="5" fill="#0086fd"/>
<rect x="710" y="336" width="3" height="5" fill="#0032e3"/>
<rect x="713" y="336" width="2" height="5" fill="#000cae"/>
<rect x="715" y="336" width="5" height="5" fill="#000494"/>
<rect x="720" y="336" width="2" height="5" fill="#000087"/>
<rect x="722" y="336" width="3" height="5" fill="#0014c8"/>
<rect x="725" y="336" width="2" height="5" fill="#00a0fa"/>
<rect x="727" y="336" width="2" height="5" fill="#00c092"/>
<rect x="729" y="336" width="10" height="5" fill="#00c069"/>
<rect x="739" y="336" width="4" height="5" fill="#00be7d"/>
<rect x="743" y="336" width="5" height="5" fill="#00c092"/>
<rect x="748" y="336" width="2" height="5" fill="#00c069"/>
<rect x="750" y="336" width="3" height="5" fill="#00c641"/>
<rect x="753" y="336" width="2" height="5" fill="#0ede00"/>
<rect x="755" y="336" width="2" height="5" fill="#44e700"/>
<rect x="757" y="336" width="3" height="5" fill="#0ede00"/>
<rect x="760" y="336" width="14" height="5" fill="#00d808"/>
<rect x="774" y="336" width="9" height="5" fill="#00d019"/>
<rect x="783" y="336" width="3" height="5" fill="#29e200"/>
<rect x="786" y="336" width="2" height="5" fill="#a3fb00"/>
<rect x="788" y="336" width="2" height="5" fill="#c9fd00"/>
<rect x="790" y="336" width="3" height="5" fill="#befe00"/>
<rect x="793" y="336" width="2" height="5" fill="#b4ff00"/>
<rect x="795" y="336" width="7" height="5" fill="#a3fb00"/>
<rect x="802" y="336" width="2" height="5" fill="#81f300"/>
<rect x="804" y="336" width="3" height="5" fill="#29e200"/>
<rect x="807" y="336" width="2" height="5" fill="#00d808"/>
<rect x="809" y="336" width="2" height="5" fill="#00d019"/>
<rect x="811" y="336" width="5" height="5" fill="#00c82d"/>
<rect x="816" y="336" width="2" height="5" fill="#00d019"/>
<rect x="818" y="336" width="3" height="5" fill="#00d808"/>
<rect x="821" y="336" width="2" height="5" fill="#00d019"/>
<rect x="823" y="336" width="9" height="5" fill="#00c82d"/>
<rect x="832" y="336" width="3" height="5" fill="#00c641"/>
<rect x="835" y="336" width="2" height="5" fill="#00be7d"/>
<rect x="837" y="336" width="2" height="5" fill="#00c092"/>
<rect x="839" y="336" width="3" height="5" fill="#00c2a7"/>
<rect x="842" y="336" width="2" height="5" fill="#00c6d1"/>
<rect x="844" y="336" width="3" height="5" fill="#00c8e6"/>
<rect x="847" y="336" width="2" height="5" fill="#00beeb"/>
<rect x="849" y="336" width="5" height="5" fill="#00aaf5"/>
<rect x="854" y="336" width="2" height="5" fill="#00c6d1"/>
<rect x="856" y="336" width="2" height="5" fill="#00c355"/>
<rect x="858" y="336" width="3" height="5" fill="#0ede00"/>
<rect x="861" y="336" width="2" height="5" fill="#81f300"/>
<rect x="863" y="336" width="2" height="5" fill="#70ef00"/>
<rect x="865" y="336" width="3" height="5" fill="#29e200"/>
<rect x="868" y="336" width="9" height="5" fill="#00d808"/>
<rect x="680" y="341" width="2" height="4" fill="#5feb00"/>
<rect x="682" y="341" width="3" height="4" fill="#0ede00"/>
<rect x="685" y="341" width="2" height="4" fill="#00d808"/>
<rect x="687" y="341" width="5" height="4" fill="#00d019"/>
<rect x="692" y="341" width="4" height="4" fill="#00c82d"/>
<rect x="696" y="341" width="3" height="4" fill="#00c641"/>
<rect x="699" y="341" width="2" height="4" fill="#00be7d"/>
<rect x="701" y="341" width="7" height="4" fill="#00c2a7"/>
<rect x="708" y="341" width="2" height="4" fill="#00c6d1"/>
<rect x="710" y="341" width="3" height="4" fill="#0086fd"/>
<rect x="713" y="341" width="2" height="4" fill="#003cec"/>
<rect x="715" y="341" width="3" height="4" fill="#0028da"/>
<rect x="718" y="341" width="2" height="4" fill="#0014c8"/>
<rect x="720" y="341" width="2" height="4" fill="#0010bb"/>
<rect x="722" y="341" width="3" height="4" fill="#0032e3"/>
<rect x="725" y="341" width="2" height="4" fill="#00a0fa"/>
<rect x="727" y="341" width="2" height="4" fill="#00c6d1"/>
<rect x="729" y="341" width="3" height="4" fill="#00c2a7"/>
<rect x="732" y="341" width="2" height="4" fill="#00c092"/>
<rect x="734" y="341" width="2" height="4" fill="#00be7d"/>
<rect x="736" y="341" width="10" height="4" fill="#00c069"/>
<rect x="746" y="341" width="2" height="4" fill="#00c641"/>
<rect x="748" y="341" width="2" height="4" fill="#00d019"/>
<rect x="750" y="341" width="3" height="4" fill="#29e200"/>
<rect x="753" y="341" width="4" height="4" fill="#92f700"/>
<rect x="757" y="341" width="3" height="4" fill="#44e700"/>
<rect x="760" y="341" width="4" height="4" fill="#29e200"/>
<rect x="764" y="341" width="3" height="4" fill="#44e700"/>
<rect x="767" y="341" width="4" height="4" fill="#70ef00"/>
<rect x="771" y="341" width="3" height="4" fill="#29e200"/>
<rect x="774" y="341" width="2" height="4" fill="#00d808"/>
<rect x="776" y="341" width="2" height="4" fill="#00d019"/>
<rect x="778" y="341" width="3" height="4" fill="#00d808"/>
<rect x="781" y="341" width="2" height="4" fill="#29e200"/>
<rect x="783" y="341" width="3" height="4" fill="#81f300"/>
<rect x="786" y="341" width="2" height="4" fill="#c9fd00"/>
<rect x="788" y="341" width="7" height="4" fill="#e8fa00"/>
<rect x="795" y="341" width="2" height="4" fill="#defb00"/>
<rect x="797" y="341" width="3" height="4" fill="#c9fd00"/>
<rect x="800" y="341" width="2" height="4" fill="#befe00"/>
<rect x="802" y="341" width="2" height="4" fill="#a3fb00"/>
<rect x="804" y="341" width="3" height="4" fill="#44e700"/>
<rect x="807" y="341" width="2" height="4" fill="#00d808"/>
<rect x="809" y="341" width="2" height="4" fill="#00d019"/>
<rect x="811" y="341" width="5" height="4" fill="#00c82d"/>
<rect x="816" y="341" width="2" height="4" fill="#00d808"/>
<rect x="818" y="341" width="3" height="4" fill="#29e200"/>
<rect x="821" y="341" width="2" height="4" fill="#00d808"/>
<rect x="823" y="341" width="9" height="4" fill="#00c82d"/>
<rect x="832" y="341" width="3" height="4" fill="#00c641"/>
<rect x="835" y="341" width="2" height="4" fill="#00c355"/>
<rect x="837" y="341" width="2" height="4" fill="#00c069"/>
<rect x="839" y="341" width="15" height="4" fill="#00be7d"/>
<rect x="854" y="341" width="2" height="4" fill="#00c641"/>
<rect x="856" y="341" width="2" height="4" fill="#44e700"/>
<rect x="858" y="341" width="3" height="4" fill="#a3fb00"/>
<rect x="861" y="341" width="2" height="4" fill="#c9fd00"/>
<rect x="863" y="341" width="2" height="4" fill="#a3fb00"/>
<rect x="865" y="341" width="3" height="4" fill="#29e200"/>
<rect x="868" y="341" width="2" height="4" fill="#00d019"/>
<rect x="870" y="341" width="2" height="4" fill="#00c82d"/>
<rect x="872" y="341" width="3" height="4" fill="#00c641"/>
<rect x="875" y="341" width="2" height="4" fill="#00c069"/>
<rect x="680" y="345" width="2" height="5" fill="#befe00"/>
<rect x="682" y="345" width="3" height="5" fill="#a3fb00"/>
<rect x="685" y="345" width="2" height="5" fill="#70ef00"/>
<rect x="687" y="345" width="2" height="5" fill="#29e200"/>
<rect x="689" y="345" width="3" height="5" fill="#00d808"/>
<rect x="692" y="345" width="7" height="5" fill="#00d019"/>
<rect x="699" y="345" width="7" height="5" fill="#00c82d"/>
<rect x="706" y="345" width="2" height="5" fill="#00c641"/>
<rect x="708" y="345" width="2" height="5" fill="#00be7d"/>
<rect x="710" y="345" width="3" height="5" fill="#00c8e6"/>
<rect x="713" y="345" width="2" height="5" fill="#00aaf5"/>
<rect x="715" y="345" width="3" height="5" fill="#00a0fa"/>
<rect x="718" y="345" width="4" height="5" fill="#0096ff"/>
<rect x="722" y="345" width="3" height="5" fill="#00aaf5"/>
<rect x="725" y="345" width="2" height="5" fill="#00c6d1"/>
<rect x="727" y="345" width="2" height="5" fill="#00c2a7"/>
<rect x="729" y="345" width="3" height="5" fill="#00be7d"/>
<rect x="732" y="345" width="2" height="5" fill="#00c355"/>
<rect x="734" y="345" width="2" height="5" fill="#00c641"/>
<rect x="736" y="345" width="3" height="5" fill="#00c82d"/>
<rect x="739" y="345" width="4" height="5" fill="#00d019"/>
<rect x="743" y="345" width="3" height="5" fill="#0ede00"/>
<rect x="746" y="345" width="2" height="5" fill="#70ef00"/>
<rect x="748" y="345" width="2" height="5" fill="#a3fb00"/>
<rect x="750" y="345" width="3" height="5" fill="#befe00"/>
<rect x="753" y="345" width="2" height="5" fill="#d3fc00"/>
<rect x="755" y="345" width="2" height="5" fill="#befe00"/>
<rect x="757" y="345" width="3" height="5" fill="#92f700"/>
<rect x="760" y="345" width="2" height="5" fill="#81f300"/>
<rect x="762" y="345" width="2" height="5" fill="#befe00"/>
<rect x="764" y="345" width="3" height="5" fill="#defb00"/>
<rect x="767" y="345" width="2" height="5" fill="#edf600"/>
<rect x="769" y="345" width="2" height="5" fill="#defb00"/>
<rect x="771" y="345" width="3" height="5" fill="#92f700"/>
<rect x="774" y="345" width="2" height="5" fill="#0ede00"/>
<rect x="776" y="345" width="2" height="5" fill="#00d019"/>
<rect x="778" y="345" width="3" height="5" fill="#0ede00"/>
<rect x="781" y="345" width="2" height="5" fill="#70ef00"/>
<rect x="783" y="345" width="3" height="5" fill="#b4ff00"/>
<rect x="786" y="345" width="2" height="5" fill="#defb00"/>
<rect x="788" y="345" width="2" height="5" fill="#edf600"/>
<rect x="790" y="345" width="3" height="5" fill="#f1f200"/>
<rect x="793" y="345" width="2" height="5" fill="#f6ee00"/>
<rect x="795" y="345" width="2" height="5" fill="#edf600"/>
<rect x="797" y="345" width="3" height="5" fill="#d3fc00"/>
<rect x="800" y="345" width="2" height="5" fill="#c9fd00"/>
<rect x="802" y="345" width="2" height="5" fill="#a3fb00"/>
<rect x="804" y="345" width="3" height="5" fill="#44e700"/>
<rect x="807" y="345" width="2" height="5" fill="#00d808"/>
<rect x="809" y="345" width="2" height="5" fill="#00d019"/>
<rect x="811" y="345" width="5" height="5" fill="#00c82d"/>
<rect x="816" y="345" width="2" height="5" fill="#00d808"/>
<rect x="818" y="345" width="3" height="5" fill="#29e200"/>
<rect x="821" y="345" width="2" height="5" fill="#00d808"/>
<rect x="823" y="345" width="7" height="5" fill="#00c82d"/>
<rect x="830" y="345" width="7" height="5" fill="#00c641"/>
<rect x="837" y="345" width="10" height="5" fill="#00c82d"/>
<rect x="847" y="345" width="2" height="5" fill="#00d019"/>
<rect x="849" y="345" width="2" height="5" fill="#0ede00"/>
<rect x="851" y="345" width="3" height="5" fill="#81f300"/>
<rect x="854" y="345" width="2" height="5" fill="#c9fd00"/>
<rect x="856" y="345" width="2" height="5" fill="#defb00"/>
<rect x="858" y="345" width="5" height="5" fill="#e8fa00"/>
<rect x="863" y="345" width="2" height="5" fill="#befe00"/>
<rect x="865" y="345" width="3" height="5" fill="#29e200"/>
<rect x="868" y="345" width="2" height="5" fill="#00c641"/>
<rect x="870" y="345" width="2" height="5" fill="#00c092"/>
<rect x="872" y="345" width="3" height="5" fill="#00c8e6"/>
<rect x="875" y="345" width="2" height="5" fill="#00a0fa"/>
<rect x="680" y="350" width="2" height="5" fill="#defb00"/>
<rect x="682" y="350" width="3" height="5" fill="#c9fd00"/>
<rect x="685" y="350" width="2" height="5" fill="#92f700"/>
<rect x="687" y="350" width="2" height="5" fill="#44e700"/>
<rect x="689" y="350" width="3" height="5" fill="#00d808"/>
<rect x="692" y="350" width="7" height="5" fill="#00d019"/>
<rect x="699" y="350" width="2" height="5" fill="#0ede00"/>
<rect x="701" y="350" width="2" height="5" fill="#5feb00"/>
<rect x="703" y="350" width="3" height="5" fill="#70ef00"/>
<rect x="706" y="350" width="2" height="5" fill="#44e700"/>
<rect x="708" y="350" width="2" height="5" fill="#00d808"/>
<rect x="710" y="350" width="3" height="5" fill="#00c641"/>
<rect x="713" y="350" width="2" height="5" fill="#00c355"/>
<rect x="715" y="350" width="3" height="5" fill="#00be7d"/>
<rect x="718" y="350" width="2" height="5" fill="#00c2a7"/>
<rect x="720" y="350" width="2" height="5" fill="#00c6d1"/>
<rect x="722" y="350" width="3" height="5" fill="#00c2a7"/>
<rect x="725" y="350" width="2" height="5" fill="#00be7d"/>
<rect x="727" y="350" width="2" height="5" fill="#00c355"/>
<rect x="729" y="350" width="3" height="5" fill="#00c641"/>
<rect x="732" y="350" width="2" height="5" fill="#00c82d"/>
<rect x="734" y="350" width="2" height="5" fill="#00d019"/>
<rect x="736" y="350" width="3" height="5" fill="#00d808"/>
<rect x="739" y="350" width="2" height="5" fill="#0ede00"/>
<rect x="741" y="350" width="2" height="5" fill="#44e700"/>
<rect x="743" y="350" width="3" height="5" fill="#a3fb00"/>
<rect x="746" y="350" width="2" height="5" fill="#defb00"/>
<rect x="748" y="350" width="7" height="5" fill="#f1f200"/>
<rect x="755" y="350" width="2" height="5" fill="#defb00"/>
<rect x="757" y="350" width="5" height="5" fill="#b4ff00"/>
<rect x="762" y="350" width="2" height="5" fill="#edf600"/>
<rect x="764" y="350" width="3" height="5" fill="#ffde00"/>
<rect x="767" y="350" width="2" height="5" fill="#ffce00"/>
<rect x="769" y="350" width="2" height="5" fill="#ffe600"/>
<rect x="771" y="350" width="3" height="5" fill="#befe00"/>
<rect x="774" y="350" width="2" height="5" fill="#0ede00"/>
<rect x="776" y="350" width="2" height="5" fill="#00d019"/>
<rect x="778" y="350" width="3" height="5" fill="#0ede00"/>
<rect x="781" y="350" width="2" height="5" fill="#81f300"/>
<rect x="783" y="350" width="3" height="5" fill="#b4ff00"/>
<rect x="786" y="350" width="2" height="5" fill="#c9fd00"/>
<rect x="788" y="350" width="2" height="5" fill="#defb00"/>
<rect x="790" y="350" width="3" height="5" fill="#e8fa00"/>
<rect x="793" y="350" width="2" height="5" fill="#edf600"/>
<rect x="795" y="350" width="2" height="5" fill="#defb00"/>
<rect x="797" y="350" width="3" height="5" fill="#befe00"/>
<rect x="800" y="350" width="2" height="5" fill="#a3fb00"/>
<rect x="802" y="350" width="2" height="5" fill="#81f300"/>
<rect x="804" y="350" width="3" height="5" fill="#29e200"/>
<rect x="807" y="350" width="2" height="5" fill="#00d019"/>
<rect x="809" y="350" width="9" height="5" fill="#00c82d"/>
<rect x="818" y="350" width="3" height="5" fill="#00d019"/>
<rect x="821" y="350" width="9" height="5" fill="#00c82d"/>
<rect x="830" y="350" width="5" height="5" fill="#00c641"/>
<rect x="835" y="350" width="2" height="5" fill="#00c82d"/>
<rect x="837" y="350" width="2" height="5" fill="#00d019"/>
<rect x="839" y="350" width="8" height="5" fill="#00d808"/>
<rect x="847" y="350" width="2" height="5" fill="#29e200"/>
<rect x="849" y="350" width="2" height="5" fill="#a3fb00"/>
<rect x="851" y="350" width="3" height="5" fill="#edf600"/>
<rect x="854" y="350" width="4" height="5" fill="#faea00"/>
<rect x="858" y="350" width="3" height="5" fill="#f6ee00"/>
<rect x="861" y="350" width="2" height="5" fill="#e8fa00"/>
<rect x="863" y="350" width="2" height="5" fill="#b4ff00"/>
<rect x="865" y="350" width="3" height="5" fill="#0ede00"/>
<rect x="868" y="350" width="2" height="5" fill="#00be7d"/>
<rect x="870" y="350" width="2" height="5" fill="#00c8e6"/>
<rect x="872" y="350" width="3" height="5" fill="#0096ff"/>
<rect x="875" y="350" width="2" height="5" fill="#0066f9"/>
<rect x="680" y="355" width="2" height="5" fill="#c9fd00"/>
<rect x="682" y="355" width="3" height="5" fill="#b4ff00"/>
<rect x="685" y="355" width="2" height="5" fill="#70ef00"/>
<rect x="687" y="355" width="2" height="5" fill="#0ede00"/>
<rect x="689" y="355" width="10" height="5" fill="#00d019"/>
<rect x="699" y="355" width="2" height="5" fill="#0ede00"/>
<rect x="701" y="355" width="2" height="5" fill="#81f300"/>
<rect x="703" y="355" width="3" height="5" fill="#b4ff00"/>
<rect x="706" y="355" width="2" height="5" fill="#a3fb00"/>
<rect x="708" y="355" width="2" height="5" fill="#5feb00"/>
<rect x="710" y="355" width="3" height="5" fill="#0ede00"/>
<rect x="713" y="355" width="7" height="5" fill="#00d808"/>
<rect x="720" y="355" width="2" height="5" fill="#00d019"/>
<rect x="722" y="355" width="7" height="5" fill="#00c641"/>
<rect x="729" y="355" width="3" height="5" fill="#00c82d"/>
<rect x="732" y="355" width="2" height="5" fill="#00d808"/>
<rect x="734" y="355" width="2" height="5" fill="#44e700"/>
<rect x="736" y="355" width="3" height="5" fill="#b4ff00"/>
<rect x="739" y="355" width="2" height="5" fill="#defb00"/>
<rect x="741" y="355" width="2" height="5" fill="#f6ee00"/>
<rect x="743" y="355" width="3" height="5" fill="#ffd600"/>
<rect x="746" y="355" width="2" height="5" fill="#ffbe00"/>
<rect x="748" y="355" width="2" height="5" fill="#ffc600"/>
<rect x="750" y="355" width="3" height="5" fill="#ffe600"/>
<rect x="753" y="355" width="2" height="5" fill="#edf600"/>
<rect x="755" y="355" width="2" height="5" fill="#befe00"/>
<rect x="757" y="355" width="3" height="5" fill="#b4ff00"/>
<rect x="760" y="355" width="2" height="5" fill="#e8fa00"/>
<rect x="762" y="355" width="2" height="5" fill="#ffd600"/>
<rect x="764" y="355" width="3" height="5" fill="#ffae00"/>
<rect x="767" y="355" width="2" height="5" fill="#ff9e00"/>
<rect x="769" y="355" width="2" height="5" fill="#ffc600"/>
<rect x="771" y="355" width="3" height="5" fill="#d3fc00"/>
<rect x="774" y="355" width="2" height="5" fill="#29e200"/>
<rect x="776" y="355" width="2" height="5" fill="#00d019"/>
<rect x="778" y="355" width="3" height="5" fill="#0ede00"/>
<rect x="781" y="355" width="2" height="5" fill="#5feb00"/>
<rect x="783" y="355" width="3" height="5" fill="#70ef00"/>
<rect x="786" y="355" width="2" height="5" fill="#81f300"/>
<rect x="788" y="355" width="2" height="5" fill="#92f700"/>
<rect x="790" y="355" width="3" height="5" fill="#b4ff00"/>
<rect x="793" y="355" width="2" height="5" fill="#a3fb00"/>
<rect x="795" y="355" width="2" height="5" fill="#70ef00"/>
<rect x="797" y="355" width="3" height="5" fill="#29e200"/>
<rect x="800" y="355" width="2" height="5" fill="#00d808"/>
<rect x="802" y="355" width="2" height="5" fill="#00d019"/>
<rect x="804" y="355" width="28" height="5" fill="#00c82d"/>
<rect x="832" y="355" width="3" height="5" fill="#00d019"/>
<rect x="835" y="355" width="2" height="5" fill="#0ede00"/>
<rect x="837" y="355" width="2" height="5" fill="#70ef00"/>
<rect x="839" y="355" width="3" height="5" fill="#81f300"/>
<rect x="842" y="355" width="5" height="5" fill="#70ef00"/>
<rect x="847" y="355" width="2" height="5" fill="#92f700"/>
<rect x="849" y="355" width="2" height="5" fill="#defb00"/>
<rect x="851" y="355" width="3" height="5" fill="#ffe600"/>
<rect x="854" y="355" width="2" height="5" fill="#ffd600"/>
<rect x="856" y="355" width="2" height="5" fill="#ffde00"/>
<rect x="858" y="355" width="3" height="5" fill="#faea00"/>
<rect x="861" y="355" width="2" height="5" fill="#edf600"/>
<rect x="863" y="355" width="2" height="5" fill="#b4ff00"/>
<rect x="865" y="355" width="3" height="5" fill="#0ede00"/>
<rect x="868" y="355" width="2" height="5" fill="#00c092"/>
<rect x="870" y="355" width="2" height="5" fill="#00beeb"/>
<rect x="872" y="355" width="3" height="5" fill="#0096ff"/>
<rect x="875" y="355" width="2" height="5" fill="#0076fb"/>
<rect x="680" y="360" width="2" height="5" fill="#81f300"/>
<rect x="682" y="360" width="3" height="5" fill="#5feb00"/>
<rect x="685" y="360" width="2" height="5" fill="#29e200"/>
<rect x="687" y="360" width="2" height="5" fill="#00d808"/>
<rect x="689" y="360" width="12" height="5" fill="#00d019"/>
<rect x="701" y="360" width="2" height="5" fill="#29e200"/>
<rect x="703" y="360" width="3" height="5" fill="#92f700"/>
<rect x="706" y="360" width="2" height="5" fill="#a3fb00"/>
<rect x="708" y="360" width="2" height="5" fill="#81f300"/>
<rect x="710" y="360" width="3" height="5" fill="#92f700"/>
<rect x="713" y="360" width="2" height="5" fill="#b4ff00"/>
<rect x="715" y="360" width="3" height="5" fill="#befe00"/>
<rect x="718" y="360" width="2" height="5" fill="#c9fd00"/>
<rect x="720" y="360" width="2" height="5" fill="#b4ff00"/>
<rect x="722" y="360" width="3" height="5" fill="#5feb00"/>
<rect x="725" y="360" width="2" height="5" fill="#0ede00"/>
<rect x="727" y="360" width="2" height="5" fill="#00d808"/>
<rect x="729" y="360" width="5" height="5" fill="#00d019"/>
<rect x="734" y="360" width="2" height="5" fill="#44e700"/>
<rect x="736" y="360" width="3" height="5" fill="#befe00"/>
<rect x="739" y="360" width="2" height="5" fill="#edf600"/>
<rect x="741" y="360" width="2" height="5" fill="#ffe600"/>
<rect x="743" y="360" width="3" height="5" fill="#ffc600"/>
<rect x="746" y="360" width="4" height="5" fill="#ffa600"/>
<rect x="750" y="360" width="3" height="5" fill="#ffd600"/>
<rect x="753" y="360" width="2" height="5" fill="#f1f200"/>
<rect x="755" y="360" width="5" height="5" fill="#befe00"/>
<rect x="760" y="360" width="2" height="5" fill="#edf600"/>
<rect x="762" y="360" width="2" height="5" fill="#ffc600"/>
<rect x="764" y="360" width="3" height="5" fill="#ff9e00"/>
<rect x="767" y="360" width="2" height="5" fill="#f88a00"/>
<rect x="769" y="360" width="2" height="5" fill="#ffae00"/>
<rect x="771" y="360" width="3" height="5" fill="#e8fa00"/>
<rect x="774" y="360" width="2" height="5" fill="#5feb00"/>
<rect x="776" y="360" width="10" height="5" fill="#0ede00"/>
<rect x="786" y="360" width="9" height="5" fill="#00d019"/>
<rect x="795" y="360" width="2" height="5" fill="#00c82d"/>
<rect x="797" y="360" width="7" height="5" fill="#00c355"/>
<rect x="804" y="360" width="3" height="5" fill="#00c641"/>
<rect x="807" y="360" width="25" height="5" fill="#00c82d"/>
<rect x="832" y="360" width="3" height="5" fill="#00d019"/>
<rect x="835" y="360" width="2" height="5" fill="#44e700"/>
<rect x="837" y="360" width="2" height="5" fill="#a3fb00"/>
<rect x="839" y="360" width="8" height="5" fill="#befe00"/>
<rect x="847" y="360" width="2" height="5" fill="#c9fd00"/>
<rect x="849" y="360" width="2" height="5" fill="#e8fa00"/>
<rect x="851" y="360" width="3" height="5" fill="#faea00"/>
<rect x="854" y="360" width="2" height="5" fill="#ffe600"/>
<rect x="856" y="360" width="2" height="5" fill="#f6ee00"/>
<rect x="858" y="360" width="3" height="5" fill="#e8fa00"/>
<rect x="861" y="360" width="2" height="5" fill="#d3fc00"/>
<rect x="863" y="360" width="2" height="5" fill="#a3fb00"/>
<rect x="865" y="360" width="3" height="5" fill="#0ede00"/>
<rect x="868" y="360" width="2" height="5" fill="#00c355"/>
<rect x="870" y="360" width="2" height="5" fill="#00c4bc"/>
<rect x="872" y="360" width="5" height="5" fill="#00beeb"/>
<rect x="680" y="365" width="2" height="5" fill="#5feb00"/>
<rect x="682" y="365" width="3" height="5" fill="#29e200"/>
<rect x="685" y="365" width="2" height="5" fill="#00d808"/>
<rect x="687" y="365" width="5" height="5" fill="#00d019"/>
<rect x="692" y="365" width="7" height="5" fill="#00c82d"/>
<rect x="699" y="365" width="2" height="5" fill="#00d019"/>
<rect x="701" y="365" width="2" height="5" fill="#0ede00"/>
<rect x="703" y="365" width="3" height="5" fill="#5feb00"/>
<rect x="706" y="365" width="2" height="5" fill="#92f700"/>
<rect x="708" y="365" width="2" height="5" fill="#b4ff00"/>
<rect x="710" y="365" width="3" height="5" fill="#d3fc00"/>
<rect x="713" y="365" width="2" height="5" fill="#edf600"/>
<rect x="715" y="365" width="3" height="5" fill="#faea00"/>
<rect x="718" y="365" width="2" height="5" fill="#ffe600"/>
<rect x="720" y="365" width="2" height="5" fill="#faea00"/>
<rect x="722" y="365" width="3" height="5" fill="#defb00"/>
<rect x="725" y="365" width="2" height="5" fill="#b4ff00"/>
<rect x="727" y="365" width="2" height="5" fill="#70ef00"/>
<rect x="729" y="365" width="3" height="5" fill="#29e200"/>
<rect x="732" y="365" width="2" height="5" fill="#00d019"/>
<rect x="734" y="365" width="2" height="5" fill="#29e200"/>
<rect x="736" y="365" width="3" height="5" fill="#b4ff00"/>
<rect x="739" y="365" width="2" height="5" fill="#e8fa00"/>
<rect x="741" y="365" width="2" height="5" fill="#faea00"/>
<rect x="743" y="365" width="3" height="5" fill="#ffc600"/>
<rect x="746" y="365" width="4" height="5" fill="#ffa600"/>
<rect x="750" y="365" width="3" height="5" fill="#ffd600"/>
<rect x="753" y="365" width="2" height="5" fill="#f1f200"/>
<rect x="755" y="365" width="2" height="5" fill="#befe00"/>
<rect x="757" y="365" width="3" height="5" fill="#b4ff00"/>
<rect x="760" y="365" width="2" height="5" fill="#edf600"/>
<rect x="762" y="365" width="2" height="5" fill="#ffc600"/>
<rect x="764" y="365" width="3" height="5" fill="#ff9600"/>
<rect x="767" y="365" width="2" height="5" fill="#f27f00"/>
<rect x="769" y="365" width="2" height="5" fill="#ffae00"/>
<rect x="771" y="365" width="3" height="5" fill="#e8fa00"/>
<rect x="774" y="365" width="2" height="5" fill="#44e700"/>
<rect x="776" y="365" width="7" height="5" fill="#00d808"/>
<rect x="783" y="365" width="3" height="5" fill="#00d019"/>
<rect x="786" y="365" width="2" height="5" fill="#00c355"/>
<rect x="788" y="365" width="2" height="5" fill="#00be7d"/>
<rect x="790" y="365" width="3" height="5" fill="#00c092"/>
<rect x="793" y="365" width="2" height="5" fill="#00c2a7"/>
<rect x="795" y="365" width="2" height="5" fill="#00c4bc"/>
<rect x="797" y="365" width="5" height="5" fill="#00c6d1"/>
<rect x="802" y="365" width="2" height="5" fill="#00c2a7"/>
<rect x="804" y="365" width="3" height="5" fill="#00be7d"/>
<rect x="807" y="365" width="2" height="5" fill="#00c355"/>
<rect x="809" y="365" width="2" height="5" fill="#00c641"/>
<rect x="811" y="365" width="12" height="5" fill="#00c82d"/>
<rect x="823" y="365" width="9" height="5" fill="#00d019"/>
<rect x="832" y="365" width="3" height="5" fill="#00d808"/>
<rect x="835" y="365" width="2" height="5" fill="#44e700"/>
<rect x="837" y="365" width="2" height="5" fill="#a3fb00"/>
<rect x="839" y="365" width="5" height="5" fill="#b4ff00"/>
<rect x="844" y="365" width="3" height="5" fill="#92f700"/>
<rect x="847" y="365" width="2" height="5" fill="#70ef00"/>
<rect x="849" y="365" width="2" height="5" fill="#92f700"/>
<rect x="851" y="365" width="3" height="5" fill="#c9fd00"/>
<rect x="854" y="365" width="2" height="5" fill="#defb00"/>
<rect x="856" y="365" width="2" height="5" fill="#befe00"/>
<rect x="858" y="365" width="3" height="5" fill="#b4ff00"/>
<rect x="861" y="365" width="2" height="5" fill="#92f700"/>
<rect x="863" y="365" width="2" height="5" fill="#29e200"/>
<rect x="865" y="365" width="3" height="5" fill="#00d019"/>
<rect x="868" y="365" width="2" height="5" fill="#00c82d"/>
<rect x="870" y="365" width="2" height="5" fill="#00c641"/>
<rect x="872" y="365" width="5" height="5" fill="#00c355"/>
<rect x="680" y="370" width="2" height="4" fill="#29e200"/>
<rect x="682" y="370" width="3" height="4" fill="#0ede00"/>
<rect x="685" y="370" width="2" height="4" fill="#00d808"/>
<rect x="687" y="370" width="2" height="4" fill="#00d019"/>
<rect x="689" y="370" width="12" height="4" fill="#00c82d"/>
<rect x="701" y="370" width="2" height="4" fill="#00d019"/>
<rect x="703" y="370" width="3" height="4" fill="#0ede00"/>
<rect x="706" y="370" width="2" height="4" fill="#44e700"/>
<rect x="708" y="370" width="2" height="4" fill="#81f300"/>
<rect x="710" y="370" width="3" height="4" fill="#befe00"/>
<rect x="713" y="370" width="2" height="4" fill="#edf600"/>
<rect x="715" y="370" width="3" height="4" fill="#ffde00"/>
<rect x="718" y="370" width="2" height="4" fill="#ffce00"/>
<rect x="720" y="370" width="2" height="4" fill="#ffd600"/>
<rect x="722" y="370" width="3" height="4" fill="#faea00"/>
<rect x="725" y="370" width="2" height="4" fill="#edf600"/>
<rect x="727" y="370" width="2" height="4" fill="#defb00"/>
<rect x="729" y="370" width="3" height="4" fill="#81f300"/>
<rect x="732" y="370" width="2" height="4" fill="#0ede00"/>
<rect x="734" y="370" width="2" height="4" fill="#00d019"/>
<rect x="736" y="370" width="3" height="4" fill="#44e700"/>
<rect x="739" y="370" width="2" height="4" fill="#a3fb00"/>
<rect x="741" y="370" width="2" height="4" fill="#defb00"/>
<rect x="743" y="370" width="3" height="4" fill="#faea00"/>
<rect x="746" y="370" width="2" height="4" fill="#ffce00"/>
<rect x="748" y="370" width="2" height="4" fill="#ffd600"/>
<rect x="750" y="370" width="3" height="4" fill="#f6ee00"/>
<rect x="753" y="370" width="2" height="4" fill="#d3fc00"/>
<rect x="755" y="370" width="5" height="4" fill="#92f700"/>
<rect x="760" y="370" width="2" height="4" fill="#defb00"/>
<rect x="762" y="370" width="2" height="4" fill="#ffd600"/>
<rect x="764" y="370" width="3" height="4" fill="#ffa600"/>
<rect x="767" y="370" width="2" height="4" fill="#ff9600"/>
<rect x="769" y="370" width="2" height="4" fill="#ffb600"/>
<rect x="771" y="370" width="3" height="4" fill="#defb00"/>
<rect x="774" y="370" width="2" height="4" fill="#29e200"/>
<rect x="776" y="370" width="7" height="4" fill="#00d019"/>
<rect x="783" y="370" width="3" height="4" fill="#00c82d"/>
<rect x="786" y="370" width="2" height="4" fill="#00c069"/>
<rect x="788" y="370" width="5" height="4" fill="#00c4bc"/>
<rect x="793" y="370" width="2" height="4" fill="#00c8e6"/>
<rect x="795" y="370" width="2" height="4" fill="#00aaf5"/>
<rect x="797" y="370" width="3" height="4" fill="#0096ff"/>
<rect x="800" y="370" width="2" height="4" fill="#00aaf5"/>
<rect x="802" y="370" width="2" height="4" fill="#00c4bc"/>
<rect x="804" y="370" width="3" height="4" fill="#00c092"/>
<rect x="807" y="370" width="2" height="4" fill="#00c069"/>
<rect x="809" y="370" width="2" height="4" fill="#00c641"/>
<rect x="811" y="370" width="5" height="4" fill="#00c82d"/>
<rect x="816" y="370" width="5" height="4" fill="#00d019"/>
<rect x="821" y="370" width="2" height="4" fill="#00d808"/>
<rect x="823" y="370" width="2" height="4" fill="#44e700"/>
<rect x="825" y="370" width="5" height="4" fill="#5feb00"/>
<rect x="830" y="370" width="2" height="4" fill="#70ef00"/>
<rect x="832" y="370" width="3" height="4" fill="#81f300"/>
<rect x="835" y="370" width="2" height="4" fill="#92f700"/>
<rect x="837" y="370" width="5" height="4" fill="#a3fb00"/>
<rect x="842" y="370" width="2" height="4" fill="#81f300"/>
<rect x="844" y="370" width="3" height="4" fill="#44e700"/>
<rect x="847" y="370" width="2" height="4" fill="#0ede00"/>
<rect x="849" y="370" width="2" height="4" fill="#29e200"/>
<rect x="851" y="370" width="3" height="4" fill="#5feb00"/>
<rect x="854" y="370" width="2" height="4" fill="#70ef00"/>
<rect x="856" y="370" width="2" height="4" fill="#5feb00"/>
<rect x="858" y="370" width="3" height="4" fill="#44e700"/>
<rect x="861" y="370" width="2" height="4" fill="#29e200"/>
<rect x="863" y="370" width="2" height="4" fill="#0ede00"/>
<rect x="865" y="370" width="3" height="4" fill="#00d808"/>
<rect x="868" y="370" width="2" height="4" fill="#00d019"/>
<rect x="870" y="370" width="5" height="4" fill="#00d808"/>
<rect x="875" y="370" width="2" height="4" fill="#0ede00"/>
<rect x="680" y="374" width="7" height="5" fill="#00d808"/>
<rect x="687" y="374" width="2" height="5" fill="#00d019"/>
<rect x="689" y="374" width="14" height="5" fill="#00c82d"/>
<rect x="703" y="374" width="5" height="5" fill="#00d019"/>
<rect x="708" y="374" width="2" height="5" fill="#29e200"/>
<rect x="710" y="374" width="3" height="5" fill="#92f700"/>
<rect x="713" y="374" width="2" height="5" fill="#defb00"/>
<rect x="715" y="374" width="3" height="5" fill="#faea00"/>
<rect x="718" y="374" width="2" height="5" fill="#ffd600"/>
<rect x="720" y="374" width="2" height="5" fill="#ffce00"/>
<rect x="722" y="374" width="3" height="5" fill="#ffd600"/>
<rect x="725" y="374" width="2" height="5" fill="#faea00"/>
<rect x="727" y="374" width="2" height="5" fill="#e8fa00"/>
<rect x="729" y="374" width="3" height="5" fill="#a3fb00"/>
<rect x="732" y="374" width="2" height="5" fill="#0ede00"/>
<rect x="734" y="374" width="5" height="5" fill="#00d019"/>
<rect x="739" y="374" width="2" height="5" fill="#00d808"/>
<rect x="741" y="374" width="2" height="5" fill="#44e700"/>
<rect x="743" y="374" width="3" height="5" fill="#a3fb00"/>
<rect x="746" y="374" width="2" height="5" fill="#defb00"/>
<rect x="748" y="374" width="2" height="5" fill="#d3fc00"/>
<rect x="750" y="374" width="3" height="5" fill="#b4ff00"/>
<rect x="753" y="374" width="2" height="5" fill="#81f300"/>
<rect x="755" y="374" width="2" height="5" fill="#44e700"/>
<rect x="757" y="374" width="3" height="5" fill="#5feb00"/>
<rect x="760" y="374" width="2" height="5" fill="#c9fd00"/>
<rect x="762" y="374" width="2" height="5" fill="#faea00"/>
<rect x="764" y="374" width="3" height="5" fill="#ffbe00"/>
<rect x="767" y="374" width="2" height="5" fill="#ffb600"/>
<rect x="769" y="374" width="2" height="5" fill="#ffce00"/>
<rect x="771" y="374" width="3" height="5" fill="#d3fc00"/>
<rect x="774" y="374" width="2" height="5" fill="#29e200"/>
<rect x="776" y="374" width="7" height="5" fill="#00d019"/>
<rect x="783" y="374" width="3" height="5" fill="#00c82d"/>
<rect x="786" y="374" width="2" height="5" fill="#00c069"/>
<rect x="788" y="374" width="2" height="5" fill="#00c092"/>
<rect x="790" y="374" width="3" height="5" fill="#00c2a7"/>
<rect x="793" y="374" width="2" height="5" fill="#00c6d1"/>
<rect x="795" y="374" width="2" height="5" fill="#00aaf5"/>
<rect x="797" y="374" width="3" height="5" fill="#00a0fa"/>
<rect x="800" y="374" width="2" height="5" fill="#00b4f0"/>
<rect x="802" y="374" width="2" height="5" fill="#00c2a7"/>
<rect x="804" y="374" width="3" height="5" fill="#00be7d"/>
<rect x="807" y="374" width="2" height="5" fill="#00c069"/>
<rect x="809" y="374" width="2" height="5" fill="#00c82d"/>
<rect x="811" y="374" width="3" height="5" fill="#00d019"/>
<rect x="814" y="374" width="2" height="5" fill="#0ede00"/>
<rect x="816" y="374" width="2" height="5" fill="#5feb00"/>
<rect x="818" y="374" width="3" height="5" fill="#81f300"/>
<rect x="821" y="374" width="2" height="5" fill="#92f700"/>
<rect x="823" y="374" width="2" height="5" fill="#b4ff00"/>
<rect x="825" y="374" width="3" height="5" fill="#befe00"/>
<rect x="828" y="374" width="11" height="5" fill="#b4ff00"/>
<rect x="839" y="374" width="3" height="5" fill="#92f700"/>
<rect x="842" y="374" width="2" height="5" fill="#5feb00"/>
<rect x="844" y="374" width="3" height="5" fill="#0ede00"/>
<rect x="847" y="374" width="2" height="5" fill="#00d808"/>
<rect x="849" y="374" width="2" height="5" fill="#00d019"/>
<rect x="851" y="374" width="7" height="5" fill="#00d808"/>
<rect x="858" y="374" width="10" height="5" fill="#00d019"/>
<rect x="868" y="374" width="2" height="5" fill="#00d808"/>
<rect x="870" y="374" width="2" height="5" fill="#81f300"/>
<rect x="872" y="374" width="3" height="5" fill="#c9fd00"/>
<rect x="875" y="374" width="2" height="5" fill="#e8fa00"/>
<rect x="680" y="379" width="7" height="5" fill="#00d808"/>
<rect x="687" y="379" width="7" height="5" fill="#00d019"/>
<rect x="694" y="379" width="9" height="5" fill="#00c82d"/>
<rect x="703" y="379" width="7" height="5" fill="#00d019"/>
<rect x="710" y="379" width="3" height="5" fill="#29e200"/>
<rect x="713" y="379" width="2" height="5" fill="#92f700"/>
<rect x="715" y="379" width="3" height="5" fill="#defb00"/>
<rect x="718" y="379" width="2" height="5" fill="#f6ee00"/>
<rect x="720" y="379" width="2" height="5" fill="#ffde00"/>
<rect x="722" y="379" width="3" height="5" fill="#ffd600"/>
<rect x="725" y="379" width="2" height="5" fill="#ffe600"/>
<rect x="727" y="379" width="2" height="5" fill="#edf600"/>
<rect x="729" y="379" width="3" height="5" fill="#b4ff00"/>
<rect x="732" y="379" width="2" height="5" fill="#5feb00"/>
<rect x="734" y="379" width="2" height="5" fill="#0ede00"/>
<rect x="736" y="379" width="7" height="5" fill="#00d019"/>
<rect x="743" y="379" width="3" height="5" fill="#00d808"/>
<rect x="746" y="379" width="4" height="5" fill="#29e200"/>
<rect x="750" y="379" width="3" height="5" fill="#00d808"/>
<rect x="753" y="379" width="4" height="5" fill="#00d019"/>
<rect x="757" y="379" width="3" height="5" fill="#0ede00"/>
<rect x="760" y="379" width="2" height="5" fill="#92f700"/>
<rect x="762" y="379" width="2" height="5" fill="#defb00"/>
<rect x="764" y="379" width="3" height="5" fill="#f1f200"/>
<rect x="767" y="379" width="2" height="5" fill="#faea00"/>
<rect x="769" y="379" width="2" height="5" fill="#f6ee00"/>
<rect x="771" y="379" width="3" height="5" fill="#b4ff00"/>
<rect x="774" y="379" width="2" height="5" fill="#29e200"/>
<rect x="776" y="379" width="7" height="5" fill="#00d019"/>
<rect x="783" y="379" width="3" height="5" fill="#00c82d"/>
<rect x="786" y="379" width="2" height="5" fill="#00c641"/>
<rect x="788" y="379" width="5" height="5" fill="#00c355"/>
<rect x="793" y="379" width="2" height="5" fill="#00c069"/>
<rect x="795" y="379" width="2" height="5" fill="#00c2a7"/>
<rect x="797" y="379" width="3" height="5" fill="#00c4bc"/>
<rect x="800" y="379" width="2" height="5" fill="#00c2a7"/>
<rect x="802" y="379" width="2" height="5" fill="#00be7d"/>
<rect x="804" y="379" width="5" height="5" fill="#00c355"/>
<rect x="809" y="379" width="2" height="5" fill="#00c82d"/>
<rect x="811" y="379" width="3" height="5" fill="#00d019"/>
<rect x="814" y="379" width="2" height="5" fill="#29e200"/>
<rect x="816" y="379" width="2" height="5" fill="#92f700"/>
<rect x="818" y="379" width="3" height="5" fill="#befe00"/>
<rect x="821" y="379" width="2" height="5" fill="#c9fd00"/>
<rect x="823" y="379" width="5" height="5" fill="#d3fc00"/>
<rect x="828" y="379" width="9" height="5" fill="#c9fd00"/>
<rect x="837" y="379" width="2" height="5" fill="#b4ff00"/>
<rect x="839" y="379" width="3" height="5" fill="#70ef00"/>
<rect x="842" y="379" width="2" height="5" fill="#29e200"/>
<rect x="844" y="379" width="3" height="5" fill="#00d808"/>
<rect x="847" y="379" width="21" height="5" fill="#00d019"/>
<rect x="868" y="379" width="2" height="5" fill="#0ede00"/>
<rect x="870" y="379" width="2" height="5" fill="#b4ff00"/>
<rect x="872" y="379" width="3" height="5" fill="#faea00"/>
<rect x="875" y="379" width="2" height="5" fill="#ffde00"/>
<rect x="680" y="384" width="9" height="5" fill="#00d808"/>
<rect x="689" y="384" width="7" height="5" fill="#0ede00"/>
<rect x="696" y="384" width="3" height="5" fill="#00d808"/>
<rect x="699" y="384" width="14" height="5" fill="#00d019"/>
<rect x="713" y="384" width="2" height="5" fill="#29e200"/>
<rect x="715" y="384" width="3" height="5" fill="#81f300"/>
<rect x="718" y="384" width="2" height="5" fill="#befe00"/>
<rect x="720" y="384" width="2" height="5" fill="#defb00"/>
<rect x="722" y="384" width="3" height="5" fill="#edf600"/>
<rect x="725" y="384" width="2" height="5" fill="#e8fa00"/>
<rect x="727" y="384" width="2" height="5" fill="#d3fc00"/>
<rect x="729" y="384" width="3" height="5" fill="#81f300"/>
<rect x="732" y="384" width="2" height="5" fill="#0ede00"/>
<rect x="734" y="384" width="9" height="5" fill="#00d019"/>
<rect x="743" y="384" width="3" height="5" fill="#00c82d"/>
<rect x="746" y="384" width="9" height="5" fill="#00c641"/>
<rect x="755" y="384" width="2" height="5" fill="#00c82d"/>
<rect x="757" y="384" width="3" height="5" fill="#00d019"/>
<rect x="760" y="384" width="2" height="5" fill="#0ede00"/>
<rect x="762" y="384" width="2" height="5" fill="#81f300"/>
<rect x="764" y="384" width="3" height="5" fill="#befe00"/>
<rect x="767" y="384" width="2" height="5" fill="#d3fc00"/>
<rect x="769" y="384" width="2" height="5" fill="#c9fd00"/>
<rect x="771" y="384" width="3" height="5" fill="#b4ff00"/>
<rect x="774" y="384" width="2" height="5" fill="#5feb00"/>
<rect x="776" y="384" width="2" height="5" fill="#00d808"/>
<rect x="778" y="384" width="8" height="5" fill="#00d019"/>
<rect x="786" y="384" width="9" height="5" fill="#00c82d"/>
<rect x="795" y="384" width="2" height="5" fill="#00c641"/>
<rect x="797" y="384" width="10" height="5" fill="#00c069"/>
<rect x="807" y="384" width="2" height="5" fill="#00c355"/>
<rect x="809" y="384" width="2" height="5" fill="#00c82d"/>
<rect x="811" y="384" width="3" height="5" fill="#00d019"/>
<rect x="814" y="384" width="2" height="5" fill="#29e200"/>
<rect x="816" y="384" width="2" height="5" fill="#a3fb00"/>
<rect x="818" y="384" width="3" height="5" fill="#c9fd00"/>
<rect x="821" y="384" width="2" height="5" fill="#befe00"/>
<rect x="823" y="384" width="2" height="5" fill="#b4ff00"/>
<rect x="825" y="384" width="5" height="5" fill="#a3fb00"/>
<rect x="830" y="384" width="2" height="5" fill="#befe00"/>
<rect x="832" y="384" width="5" height="5" fill="#c9fd00"/>
<rect x="837" y="384" width="2" height="5" fill="#b4ff00"/>
<rect x="839" y="384" width="3" height="5" fill="#70ef00"/>
<rect x="842" y="384" width="2" height="5" fill="#44e700"/>
<rect x="844" y="384" width="3" height="5" fill="#00d808"/>
<rect x="847" y="384" width="2" height="5" fill="#00d019"/>
<rect x="849" y="384" width="5" height="5" fill="#00d808"/>
<rect x="854" y="384" width="14" height="5" fill="#00d019"/>
<rect x="868" y="384" width="2" height="5" fill="#29e200"/>
<rect x="870" y="384" width="2" height="5" fill="#c9fd00"/>
<rect x="872" y="384" width="3" height="5" fill="#ffe600"/>
<rect x="875" y="384" width="2" height="5" fill="#ffce00"/>
<rect x="680" y="389" width="7" height="5" fill="#00d808"/>
<rect x="687" y="389" width="2" height="5" fill="#0ede00"/>
<rect x="689" y="389" width="3" height="5" fill="#44e700"/>
<rect x="692" y="389" width="2" height="5" fill="#5feb00"/>
<rect x="694" y="389" width="2" height="5" fill="#44e700"/>
<rect x="696" y="389" width="3" height="5" fill="#29e200"/>
<rect x="699" y="389" width="2" height="5" fill="#0ede00"/>
<rect x="701" y="389" width="14" height="5" fill="#00d019"/>
<rect x="715" y="389" width="3" height="5" fill="#0ede00"/>
<rect x="718" y="389" width="2" height="5" fill="#70ef00"/>
<rect x="720" y="389" width="2" height="5" fill="#b4ff00"/>
<rect x="722" y="389" width="5" height="5" fill="#befe00"/>
<rect x="727" y="389" width="2" height="5" fill="#a3fb00"/>
<rect x="729" y="389" width="3" height="5" fill="#44e700"/>
<rect x="732" y="389" width="4" height="5" fill="#00d808"/>
<rect x="736" y="389" width="5" height="5" fill="#0ede00"/>
<rect x="741" y="389" width="2" height="5" fill="#00d019"/>
<rect x="743" y="389" width="3" height="5" fill="#00c641"/>
<rect x="746" y="389" width="7" height="5" fill="#00c355"/>
<rect x="753" y="389" width="2" height="5" fill="#00c641"/>
<rect x="755" y="389" width="2" height="5" fill="#00c82d"/>
<rect x="757" y="389" width="3" height="5" fill="#00d019"/>
<rect x="760" y="389" width="2" height="5" fill="#00d808"/>
<rect x="762" y="389" width="2" height="5" fill="#0ede00"/>
<rect x="764" y="389" width="10" height="5" fill="#44e700"/>
<rect x="774" y="389" width="2" height="5" fill="#00d808"/>
<rect x="776" y="389" width="10" height="5" fill="#00d019"/>
<rect x="786" y="389" width="7" height="5" fill="#00d808"/>
<rect x="793" y="389" width="2" height="5" fill="#00d019"/>
<rect x="795" y="389" width="14" height="5" fill="#00c82d"/>
<rect x="809" y="389" width="5" height="5" fill="#00d019"/>
<rect x="814" y="389" width="2" height="5" fill="#0ede00"/>
<rect x="816" y="389" width="2" height="5" fill="#81f300"/>
<rect x="818" y="389" width="3" height="5" fill="#b4ff00"/>
<rect x="821" y="389" width="2" height="5" fill="#a3fb00"/>
<rect x="823" y="389" width="2" height="5" fill="#5feb00"/>
<rect x="825" y="389" width="3" height="5" fill="#29e200"/>
<rect x="828" y="389" width="2" height="5" fill="#5feb00"/>
<rect x="830" y="389" width="2" height="5" fill="#92f700"/>
<rect x="832" y="389" width="5" height="5" fill="#b4ff00"/>
<rect x="837" y="389" width="2" height="5" fill="#92f700"/>
<rect x="839" y="389" width="3" height="5" fill="#5feb00"/>
<rect x="842" y="389" width="5" height="5" fill="#29e200"/>
<rect x="847" y="389" width="2" height="5" fill="#44e700"/>
<rect x="849" y="389" width="2" height="5" fill="#5feb00"/>
<rect x="851" y="389" width="3" height="5" fill="#44e700"/>
<rect x="854" y="389" width="2" height="5" fill="#00d808"/>
<rect x="856" y="389" width="12" height="5" fill="#00d019"/>
<rect x="868" y="389" width="2" height="5" fill="#44e700"/>
<rect x="870" y="389" width="2" height="5" fill="#d3fc00"/>
<rect x="872" y="389" width="3" height="5" fill="#ffe600"/>
<rect x="875" y="389" width="2" height="5" fill="#ffd600"/>
<rect x="680" y="394" width="5" height="5" fill="#00d019"/>
<rect x="685" y="394" width="2" height="5" fill="#00d808"/>
<rect x="687" y="394" width="2" height="5" fill="#29e200"/>
<rect x="689" y="394" width="3" height="5" fill="#5feb00"/>
<rect x="692" y="394" width="4" height="5" fill="#70ef00"/>
<rect x="696" y="394" width="3" height="5" fill="#44e700"/>
<rect x="699" y="394" width="2" height="5" fill="#29e200"/>
<rect x="701" y="394" width="2" height="5" fill="#00d808"/>
<rect x="703" y="394" width="15" height="5" fill="#00d019"/>
<rect x="718" y="394" width="2" height="5" fill="#00d808"/>
<rect x="720" y="394" width="7" height="5" fill="#0ede00"/>
<rect x="727" y="394" width="5" height="5" fill="#00d808"/>
<rect x="732" y="394" width="2" height="5" fill="#00d019"/>
<rect x="734" y="394" width="2" height="5" fill="#0ede00"/>
<rect x="736" y="394" width="5" height="5" fill="#44e700"/>
<rect x="741" y="394" width="2" height="5" fill="#00d808"/>
<rect x="743" y="394" width="3" height="5" fill="#00c82d"/>
<rect x="746" y="394" width="9" height="5" fill="#00c641"/>
<rect x="755" y="394" width="2" height="5" fill="#00d808"/>
<rect x="757" y="394" width="5" height="5" fill="#29e200"/>
<rect x="762" y="394" width="2" height="5" fill="#00d808"/>
<rect x="764" y="394" width="3" height="5" fill="#00d019"/>
<rect x="767" y="394" width="4" height="5" fill="#00c82d"/>
<rect x="771" y="394" width="15" height="5" fill="#00d019"/>
<rect x="786" y="394" width="2" height="5" fill="#00d808"/>
<rect x="788" y="394" width="2" height="5" fill="#29e200"/>
<rect x="790" y="394" width="3" height="5" fill="#70ef00"/>
<rect x="793" y="394" width="2" height="5" fill="#5feb00"/>
<rect x="795" y="394" width="2" height="5" fill="#00d808"/>
<rect x="797" y="394" width="10" height="5" fill="#00c82d"/>
<rect x="807" y="394" width="9" height="5" fill="#00d019"/>
<rect x="816" y="394" width="2" height="5" fill="#0ede00"/>
<rect x="818" y="394" width="3" height="5" fill="#44e700"/>
<rect x="821" y="394" width="2" height="5" fill="#29e200"/>
<rect x="823" y="394" width="2" height="5" fill="#00d808"/>
<rect x="825" y="394" width="3" height="5" fill="#00d019"/>
<rect x="828" y="394" width="2" height="5" fill="#0ede00"/>
<rect x="830" y="394" width="2" height="5" fill="#70ef00"/>
<rect x="832" y="394" width="5" height="5" fill="#92f700"/>
<rect x="837" y="394" width="2" height="5" fill="#81f300"/>
<rect x="839" y="394" width="3" height="5" fill="#44e700"/>
<rect x="842" y="394" width="2" height="5" fill="#29e200"/>
<rect x="844" y="394" width="3" height="5" fill="#70ef00"/>
<rect x="847" y="394" width="4" height="5" fill="#81f300"/>
<rect x="851" y="394" width="3" height="5" fill="#5feb00"/>
<rect x="854" y="394" width="2" height="5" fill="#0ede00"/>
<rect x="856" y="394" width="9" height="5" fill="#00d019"/>
<rect x="865" y="394" width="3" height="5" fill="#29e200"/>
<rect x="868" y="394" width="2" height="5" fill="#b4ff00"/>
<rect x="870" y="394" width="2" height="5" fill="#f1f200"/>
<rect x="872" y="394" width="3" height="5" fill="#ffe600"/>
<rect x="875" y="394" width="2" height="5" fill="#ffde00"/>
<rect x="680" y="399" width="2" height="5" fill="#00d019"/>
<rect x="682" y="399" width="3" height="5" fill="#00d808"/>
<rect x="685" y="399" width="2" height="5" fill="#0ede00"/>
<rect x="687" y="399" width="2" height="5" fill="#44e700"/>
<rect x="689" y="399" width="5" height="5" fill="#70ef00"/>
<rect x="694" y="399" width="2" height="5" fill="#44e700"/>
<rect x="696" y="399" width="3" height="5" fill="#29e200"/>
<rect x="699" y="399" width="2" height="5" fill="#0ede00"/>
<rect x="701" y="399" width="2" height="5" fill="#00d808"/>
<rect x="703" y="399" width="15" height="5" fill="#00d019"/>
<rect x="718" y="399" width="7" height="5" fill="#00c82d"/>
<rect x="725" y="399" width="7" height="5" fill="#00d019"/>
<rect x="732" y="399" width="2" height="5" fill="#0ede00"/>
<rect x="734" y="399" width="2" height="5" fill="#44e700"/>
<rect x="736" y="399" width="3" height="5" fill="#70ef00"/>
<rect x="739" y="399" width="2" height="5" fill="#44e700"/>
<rect x="741" y="399" width="2" height="5" fill="#00d808"/>
<rect x="743" y="399" width="3" height="5" fill="#00d019"/>
<rect x="746" y="399" width="9" height="5" fill="#00c82d"/>
<rect x="755" y="399" width="2" height="5" fill="#00d808"/>
<rect x="757" y="399" width="5" height="5" fill="#44e700"/>
<rect x="762" y="399" width="2" height="5" fill="#00d808"/>
<rect x="764" y="399" width="3" height="5" fill="#00c641"/>
<rect x="767" y="399" width="2" height="5" fill="#00c355"/>
<rect x="769" y="399" width="2" height="5" fill="#00c641"/>
<rect x="771" y="399" width="3" height="5" fill="#00c82d"/>
<rect x="774" y="399" width="12" height="5" fill="#00d019"/>
<rect x="786" y="399" width="2" height="5" fill="#00d808"/>
<rect x="788" y="399" width="2" height="5" fill="#29e200"/>
<rect x="790" y="399" width="3" height="5" fill="#92f700"/>
<rect x="793" y="399" width="2" height="5" fill="#81f300"/>
<rect x="795" y="399" width="2" height="5" fill="#0ede00"/>
<rect x="797" y="399" width="10" height="5" fill="#00d019"/>
<rect x="807" y="399" width="2" height="5" fill="#00c82d"/>
<rect x="809" y="399" width="7" height="5" fill="#00c641"/>
<rect x="816" y="399" width="12" height="5" fill="#00d019"/>
<rect x="828" y="399" width="2" height="5" fill="#0ede00"/>
<rect x="830" y="399" width="2" height="5" fill="#5feb00"/>
<rect x="832" y="399" width="5" height="5" fill="#81f300"/>
<rect x="837" y="399" width="2" height="5" fill="#5feb00"/>
<rect x="839" y="399" width="3" height="5" fill="#29e200"/>
<rect x="842" y="399" width="2" height="5" fill="#0ede00"/>
<rect x="844" y="399" width="3" height="5" fill="#44e700"/>
<rect x="847" y="399" width="4" height="5" fill="#81f300"/>
<rect x="851" y="399" width="3" height="5" fill="#29e200"/>
<rect x="854" y="399" width="9" height="5" fill="#00d019"/>
<rect x="863" y="399" width="2" height="5" fill="#0ede00"/>
<rect x="865" y="399" width="3" height="5" fill="#92f700"/>
<rect x="868" y="399" width="2" height="5" fill="#e8fa00"/>
<rect x="870" y="399" width="2" height="5" fill="#faea00"/>
<rect x="872" y="399" width="3" height="5" fill="#ffde00"/>
<rect x="875" y="399" width="2" height="5" fill="#ffd600"/>
<rect x="680" y="404" width="2" height="4" fill="#00d019"/>
<rect x="682" y="404" width="3" height="4" fill="#0ede00"/>
<rect x="685" y="404" width="2" height="4" fill="#44e700"/>
<rect x="687" y="404" width="2" height="4" fill="#70ef00"/>
<rect x="689" y="404" width="3" height="4" fill="#81f300"/>
<rect x="692" y="404" width="2" height="4" fill="#5feb00"/>
<rect x="694" y="404" width="2" height="4" fill="#29e200"/>
<rect x="696" y="404" width="3" height="4" fill="#00d808"/>
<rect x="699" y="404" width="19" height="4" fill="#00d019"/>
<rect x="718" y="404" width="2" height="4" fill="#00c82d"/>
<rect x="720" y="404" width="2" height="4" fill="#00c641"/>
<rect x="722" y="404" width="3" height="4" fill="#00c82d"/>
<rect x="725" y="404" width="4" height="4" fill="#00d019"/>
<rect x="729" y="404" width="3" height="4" fill="#00d808"/>
<rect x="732" y="404" width="2" height="4" fill="#44e700"/>
<rect x="734" y="404" width="5" height="4" fill="#70ef00"/>
<rect x="739" y="404" width="2" height="4" fill="#44e700"/>
<rect x="741" y="404" width="2" height="4" fill="#00d808"/>
<rect x="743" y="404" width="5" height="4" fill="#00d019"/>
<rect x="748" y="404" width="7" height="4" fill="#00c82d"/>
<rect x="755" y="404" width="2" height="4" fill="#00d808"/>
<rect x="757" y="404" width="3" height="4" fill="#29e200"/>
<rect x="760" y="404" width="2" height="4" fill="#44e700"/>
<rect x="762" y="404" width="2" height="4" fill="#00d019"/>
<rect x="764" y="404" width="3" height="4" fill="#00c355"/>
<rect x="767" y="404" width="2" height="4" fill="#00be7d"/>
<rect x="769" y="404" width="2" height="4" fill="#00c355"/>
<rect x="771" y="404" width="3" height="4" fill="#00c82d"/>
<rect x="774" y="404" width="12" height="4" fill="#00d019"/>
<rect x="786" y="404" width="2" height="4" fill="#0ede00"/>
<rect x="788" y="404" width="2" height="4" fill="#44e700"/>
<rect x="790" y="404" width="3" height="4" fill="#92f700"/>
<rect x="793" y="404" width="2" height="4" fill="#81f300"/>
<rect x="795" y="404" width="2" height="4" fill="#0ede00"/>
<rect x="797" y="404" width="10" height="4" fill="#00d019"/>
<rect x="807" y="404" width="2" height="4" fill="#00c641"/>
<rect x="809" y="404" width="2" height="4" fill="#00c069"/>
<rect x="811" y="404" width="3" height="4" fill="#00be7d"/>
<rect x="814" y="404" width="2" height="4" fill="#00c069"/>
<rect x="816" y="404" width="2" height="4" fill="#00c82d"/>
<rect x="818" y="404" width="10" height="4" fill="#00d019"/>
<rect x="828" y="404" width="2" height="4" fill="#0ede00"/>
<rect x="830" y="404" width="2" height="4" fill="#44e700"/>
<rect x="832" y="404" width="3" height="4" fill="#5feb00"/>
<rect x="835" y="404" width="2" height="4" fill="#44e700"/>
<rect x="837" y="404" width="2" height="4" fill="#0ede00"/>
<rect x="839" y="404" width="5" height="4" fill="#00d808"/>
<rect x="844" y="404" width="3" height="4" fill="#29e200"/>
<rect x="847" y="404" width="2" height="4" fill="#70ef00"/>
<rect x="849" y="404" width="2" height="4" fill="#5feb00"/>
<rect x="851" y="404" width="3" height="4" fill="#0ede00"/>
<rect x="854" y="404" width="7" height="4" fill="#00d019"/>
<rect x="861" y="404" width="2" height="4" fill="#0ede00"/>
<rect x="863" y="404" width="2" height="4" fill="#70ef00"/>
<rect x="865" y="404" width="3" height="4" fill="#c9fd00"/>
<rect x="868" y="404" width="2" height="4" fill="#f6ee00"/>
<rect x="870" y="404" width="2" height="4" fill="#ffde00"/>
<rect x="872" y="404" width="5" height="4" fill="#ffe600"/>
<rect x="680" y="408" width="2" height="5" fill="#00d808"/>
<rect x="682" y="408" width="3" height="5" fill="#0ede00"/>
<rect x="685" y="408" width="2" height="5" fill="#5feb00"/>
<rect x="687" y="408" width="2" height="5" fill="#81f300"/>
<rect x="689" y="408" width="3" height="5" fill="#70ef00"/>
<rect x="692" y="408" width="2" height="5" fill="#29e200"/>
<rect x="694" y="408" width="2" height="5" fill="#00d808"/>
<rect x="696" y="408" width="22" height="5" fill="#00d019"/>
<rect x="718" y="408" width="2" height="5" fill="#00c82d"/>
<rect x="720" y="408" width="2" height="5" fill="#00c641"/>
<rect x="722" y="408" width="3" height="5" fill="#00c82d"/>
<rect x="725" y="408" width="4" height="5" fill="#00d019"/>
<rect x="729" y="408" width="3" height="5" fill="#0ede00"/>
<rect x="732" y="408" width="2" height="5" fill="#5feb00"/>
<rect x="734" y="408" width="2" height="5" fill="#70ef00"/>
<rect x="736" y="408" width="3" height="5" fill="#5feb00"/>
<rect x="739" y="408" width="2" height="5" fill="#0ede00"/>
<rect x="741" y="408" width="19" height="5" fill="#00d019"/>
<rect x="760" y="408" width="2" height="5" fill="#00d808"/>
<rect x="762" y="408" width="2" height="5" fill="#00d019"/>
<rect x="764" y="408" width="3" height="5" fill="#00c355"/>
<rect x="767" y="408" width="2" height="5" fill="#00c069"/>
<rect x="769" y="408" width="2" height="5" fill="#00c355"/>
<rect x="771" y="408" width="3" height="5" fill="#00c82d"/>
<rect x="774" y="408" width="9" height="5" fill="#00d019"/>
<rect x="783" y="408" width="3" height="5" fill="#00d808"/>
<rect x="786" y="408" width="2" height="5" fill="#29e200"/>
<rect x="788" y="408" width="5" height="5" fill="#70ef00"/>
<rect x="793" y="408" width="2" height="5" fill="#0ede00"/>
<rect x="795" y="408" width="12" height="5" fill="#00d019"/>
<rect x="807" y="408" width="2" height="5" fill="#00c641"/>
<rect x="809" y="408" width="2" height="5" fill="#00c069"/>
<rect x="811" y="408" width="3" height="5" fill="#00c092"/>
<rect x="814" y="408" width="2" height="5" fill="#00c069"/>
<rect x="816" y="408" width="2" height="5" fill="#00c82d"/>
<rect x="818" y="408" width="7" height="5" fill="#00d019"/>
<rect x="825" y="408" width="3" height="5" fill="#00d808"/>
<rect x="828" y="408" width="2" height="5" fill="#29e200"/>
<rect x="830" y="408" width="5" height="5" fill="#44e700"/>
<rect x="835" y="408" width="2" height="5" fill="#29e200"/>
<rect x="837" y="408" width="2" height="5" fill="#0ede00"/>
<rect x="839" y="408" width="5" height="5" fill="#00d808"/>
<rect x="844" y="408" width="3" height="5" fill="#0ede00"/>
<rect x="847" y="408" width="2" height="5" fill="#44e700"/>
<rect x="849" y="408" width="2" height="5" fill="#29e200"/>
<rect x="851" y="408" width="3" height="5" fill="#00d808"/>
<rect x="854" y="408" width="7" height="5" fill="#00d019"/>
<rect x="861" y="408" width="2" height="5" fill="#0ede00"/>
<rect x="863" y="408" width="2" height="5" fill="#81f300"/>
<rect x="865" y="408" width="3" height="5" fill="#d3fc00"/>
<rect x="868" y="408" width="2" height="5" fill="#faea00"/>
<rect x="870" y="408" width="2" height="5" fill="#ffde00"/>
<rect x="872" y="408" width="3" height="5" fill="#faea00"/>
<rect x="875" y="408" width="2" height="5" fill="#f6ee00"/>
<rect x="680" y="413" width="2" height="5" fill="#00d808"/>
<rect x="682" y="413" width="3" height="5" fill="#29e200"/>
<rect x="685" y="413" width="2" height="5" fill="#5feb00"/>
<rect x="687" y="413" width="2" height="5" fill="#70ef00"/>
<rect x="689" y="413" width="3" height="5" fill="#5feb00"/>
<rect x="692" y="413" width="2" height="5" fill="#0ede00"/>
<rect x="694" y="413" width="21" height="5" fill="#00d019"/>
<rect x="715" y="413" width="3" height="5" fill="#00c82d"/>
<rect x="718" y="413" width="7" height="5" fill="#00c641"/>
<rect x="725" y="413" width="2" height="5" fill="#00c82d"/>
<rect x="727" y="413" width="2" height="5" fill="#00d808"/>
<rect x="729" y="413" width="3" height="5" fill="#44e700"/>
<rect x="732" y="413" width="4" height="5" fill="#70ef00"/>
<rect x="736" y="413" width="3" height="5" fill="#5feb00"/>
<rect x="739" y="413" width="2" height="5" fill="#29e200"/>
<rect x="741" y="413" width="2" height="5" fill="#00d808"/>
<rect x="743" y="413" width="5" height="5" fill="#00d019"/>
<rect x="748" y="413" width="9" height="5" fill="#00c82d"/>
<rect x="757" y="413" width="5" height="5" fill="#00d019"/>
<rect x="762" y="413" width="2" height="5" fill="#00c82d"/>
<rect x="764" y="413" width="7" height="5" fill="#00c641"/>
<rect x="771" y="413" width="3" height="5" fill="#00c82d"/>
<rect x="774" y="413" width="9" height="5" fill="#00d019"/>
<rect x="783" y="413" width="3" height="5" fill="#00d808"/>
<rect x="786" y="413" width="2" height="5" fill="#0ede00"/>
<rect x="788" y="413" width="2" height="5" fill="#29e200"/>
<rect x="790" y="413" width="3" height="5" fill="#0ede00"/>
<rect x="793" y="413" width="14" height="5" fill="#00d019"/>
<rect x="807" y="413" width="2" height="5" fill="#00c641"/>
<rect x="809" y="413" width="2" height="5" fill="#00c069"/>
<rect x="811" y="413" width="3" height="5" fill="#00be7d"/>
<rect x="814" y="413" width="2" height="5" fill="#00c069"/>
<rect x="816" y="413" width="2" height="5" fill="#00c82d"/>
<rect x="818" y="413" width="7" height="5" fill="#00d019"/>
<rect x="825" y="413" width="3" height="5" fill="#00d808"/>
<rect x="828" y="413" width="2" height="5" fill="#29e200"/>
<rect x="830" y="413" width="5" height="5" fill="#44e700"/>
<rect x="835" y="413" width="2" height="5" fill="#29e200"/>
<rect x="837" y="413" width="2" height="5" fill="#00d808"/>
<rect x="839" y="413" width="22" height="5" fill="#00d019"/>
<rect x="861" y="413" width="2" height="5" fill="#29e200"/>
<rect x="863" y="413" width="2" height="5" fill="#92f700"/>
<rect x="865" y="413" width="3" height="5" fill="#d3fc00"/>
<rect x="868" y="413" width="2" height="5" fill="#f6ee00"/>
<rect x="870" y="413" width="2" height="5" fill="#ffe600"/>
<rect x="872" y="413" width="3" height="5" fill="#f1f200"/>
<rect x="875" y="413" width="2" height="5" fill="#edf600"/>
<rect x="680" y="418" width="2" height="5" fill="#29e200"/>
<rect x="682" y="418" width="3" height="5" fill="#5feb00"/>
<rect x="685" y="418" width="4" height="5" fill="#70ef00"/>
<rect x="689" y="418" width="3" height="5" fill="#44e700"/>
<rect x="692" y="418" width="2" height="5" fill="#00d808"/>
<rect x="694" y="418" width="21" height="5" fill="#00d019"/>
<rect x="715" y="418" width="3" height="5" fill="#00c82d"/>
<rect x="718" y="418" width="7" height="5" fill="#00c641"/>
<rect x="725" y="418" width="2" height="5" fill="#00d019"/>
<rect x="727" y="418" width="2" height="5" fill="#0ede00"/>
<rect x="729" y="418" width="3" height="5" fill="#5feb00"/>
<rect x="732" y="418" width="2" height="5" fill="#81f300"/>
<rect x="734" y="418" width="2" height="5" fill="#70ef00"/>
<rect x="736" y="418" width="3" height="5" fill="#44e700"/>
<rect x="739" y="418" width="2" height="5" fill="#29e200"/>
<rect x="741" y="418" width="2" height="5" fill="#0ede00"/>
<rect x="743" y="418" width="5" height="5" fill="#00d019"/>
<rect x="748" y="418" width="9" height="5" fill="#00c82d"/>
<rect x="757" y="418" width="7" height="5" fill="#00d019"/>
<rect x="764" y="418" width="10" height="5" fill="#00c82d"/>
<rect x="774" y="418" width="12" height="5" fill="#00d019"/>
<rect x="786" y="418" width="4" height="5" fill="#0ede00"/>
<rect x="790" y="418" width="3" height="5" fill="#00d808"/>
<rect x="793" y="418" width="14" height="5" fill="#00d019"/>
<rect x="807" y="418" width="2" height="5" fill="#00c82d"/>
<rect x="809" y="418" width="2" height="5" fill="#00c641"/>
<rect x="811" y="418" width="3" height="5" fill="#00c355"/>
<rect x="814" y="418" width="2" height="5" fill="#00c641"/>
<rect x="816" y="418" width="2" height="5" fill="#00c82d"/>
<rect x="818" y="418" width="7" height="5" fill="#00d019"/>
<rect x="825" y="418" width="3" height="5" fill="#00d808"/>
<rect x="828" y="418" width="2" height="5" fill="#0ede00"/>
<rect x="830" y="418" width="2" height="5" fill="#29e200"/>
<rect x="832" y="418" width="3" height="5" fill="#0ede00"/>
<rect x="835" y="418" width="2" height="5" fill="#00d808"/>
<rect x="837" y="418" width="21" height="5" fill="#00d019"/>
<rect x="858" y="418" width="3" height="5" fill="#0ede00"/>
<rect x="861" y="418" width="2" height="5" fill="#70ef00"/>
<rect x="863" y="418" width="2" height="5" fill="#b4ff00"/>
<rect x="865" y="418" width="3" height="5" fill="#edf600"/>
<rect x="868" y="418" width="2" height="5" fill="#faea00"/>
<rect x="870" y="418" width="2" height="5" fill="#f6ee00"/>
<rect x="872" y="418" width="3" height="5" fill="#e8fa00"/>
<rect x="875" y="418" width="2" height="5" fill="#defb00"/>
<rect x="680" y="423" width="2" height="5" fill="#44e700"/>
<rect x="682" y="423" width="3" height="5" fill="#5feb00"/>
<rect x="685" y="423" width="4" height="5" fill="#70ef00"/>
<rect x="689" y="423" width="3" height="5" fill="#44e700"/>
<rect x="692" y="423" width="2" height="5" fill="#00d808"/>
<rect x="694" y="423" width="21" height="5" fill="#00d019"/>
<rect x="715" y="423" width="3" height="5" fill="#00c82d"/>
<rect x="718" y="423" width="7" height="5" fill="#00c641"/>
<rect x="725" y="423" width="2" height="5" fill="#00d808"/>
<rect x="727" y="423" width="2" height="5" fill="#5feb00"/>
<rect x="729" y="423" width="3" height="5" fill="#81f300"/>
<rect x="732" y="423" width="2" height="5" fill="#70ef00"/>
<rect x="734" y="423" width="2" height="5" fill="#44e700"/>
<rect x="736" y="423" width="5" height="5" fill="#29e200"/>
<rect x="741" y="423" width="2" height="5" fill="#0ede00"/>
<rect x="743" y="423" width="5" height="5" fill="#00d019"/>
<rect x="748" y="423" width="2" height="5" fill="#00c82d"/>
<rect x="750" y="423" width="5" height="5" fill="#00c641"/>
<rect x="755" y="423" width="2" height="5" fill="#00c82d"/>
<rect x="757" y="423" width="10" height="5" fill="#00d019"/>
<rect x="767" y="423" width="4" height="5" fill="#00c82d"/>
<rect x="771" y="423" width="15" height="5" fill="#00d019"/>
<rect x="786" y="423" width="4" height="5" fill="#0ede00"/>
<rect x="790" y="423" width="3" height="5" fill="#00d808"/>
<rect x="793" y="423" width="14" height="5" fill="#00d019"/>
<rect x="807" y="423" width="2" height="5" fill="#00c82d"/>
<rect x="809" y="423" width="7" height="5" fill="#00c641"/>
<rect x="816" y="423" width="2" height="5" fill="#00c82d"/>
<rect x="818" y="423" width="7" height="5" fill="#00d019"/>
<rect x="825" y="423" width="3" height="5" fill="#00d808"/>
<rect x="828" y="423" width="2" height="5" fill="#0ede00"/>
<rect x="830" y="423" width="2" height="5" fill="#29e200"/>
<rect x="832" y="423" width="3" height="5" fill="#0ede00"/>
<rect x="835" y="423" width="2" height="5" fill="#00d808"/>
<rect x="837" y="423" width="21" height="5" fill="#00d019"/>
<rect x="858" y="423" width="3" height="5" fill="#0ede00"/>
<rect x="861" y="423" width="2" height="5" fill="#70ef00"/>
<rect x="863" y="423" width="2" height="5" fill="#b4ff00"/>
<rect x="865" y="423" width="3" height="5" fill="#e8fa00"/>
<rect x="868" y="423" width="2" height="5" fill="#f1f200"/>
<rect x="870" y="423" width="2" height="5" fill="#edf600"/>
<rect x="872" y="423" width="3" height="5" fill="#defb00"/>
<rect x="875" y="423" width="2" height="5" fill="#c9fd00"/>
</g>
<g shape-rendering="crispEdges">
<rect x="679" y="324" width="199" height="1" fill="#000"/>
<rect x="678" y="557" width="200" height="1" fill="#000"/>
<rect x="679" y="324" width="1" height="234" fill="#000"/>
<rect x="877" y="324" width="1" height="234" fill="#000"/>
<rect x="718" y="323" width="1" height="3" fill="#000"/>
<rect x="718" y="557" width="1" height="2" fill="#000"/>
<rect x="765" y="323" width="1" height="3" fill="#000"/>
<rect x="765" y="557" width="1" height="2" fill="#000"/>
<rect x="812" y="323" width="1" height="3" fill="#000"/>
<rect x="812" y="557" width="1" height="2" fill="#000"/>
<rect x="859" y="323" width="1" height="3" fill="#000"/>
<rect x="859" y="557" width="1" height="2" fill="#000"/>
<rect x="678" y="348" width="2" height="1" fill="#000"/>
<rect x="876" y="348" width="3" height="1" fill="#000"/>
<rect x="678" y="387" width="2" height="1" fill="#000"/>
<rect x="876" y="387" width="3" height="1" fill="#000"/>
<rect x="678" y="425" width="2" height="1" fill="#000"/>
<rect x="876" y="425" width="3" height="1" fill="#000"/>
<rect x="678" y="464" width="2" height="1" fill="#000"/>
<rect x="876" y="464" width="3" height="1" fill="#000"/>
<rect x="678" y="502" width="2" height="1" fill="#000"/>
<rect x="876" y="502" width="3" height="1" fill="#000"/>
<rect x="678" y="541" width="2" height="1" fill="#000"/>
<rect x="876" y="541" width="3" height="1" fill="#000"/>
</g>
<text x="673.5" y="353" font-size="12.4" text-anchor="end" >-56</text>
<text x="673.5" y="392" font-size="12.4" text-anchor="end" >-58</text>
<text x="673.5" y="430" font-size="12.4" text-anchor="end" >-60</text>
<text x="673.5" y="469" font-size="12.4" text-anchor="end" >-62</text>
<text x="673.5" y="507" font-size="12.4" text-anchor="end" >-64</text>
<text x="673.5" y="546" font-size="12.4" text-anchor="end" >-66</text>
<text x="718.5" y="575" font-size="12.4" text-anchor="middle" >150</text>
<text x="765.5" y="575" font-size="12.4" text-anchor="middle" >155</text>
<text x="812.5" y="575" font-size="12.4" text-anchor="middle" >160</text>
<text x="859.5" y="575" font-size="12.4" text-anchor="middle" >165</text>
<text x="776.5" y="316" font-size="12.4" text-anchor="middle" textLength="179" lengthAdjust="spacingAndGlyphs">Altimetric SLA: NaN Argo: 0.017</text>
<circle cx="778.5" cy="440.5" r="5" fill="#10c820" stroke="#000" stroke-width="1"/>
<text transform="translate(889,547) rotate(-90)" font-size="12.4" textLength="171" lengthAdjust="spacingAndGlyphs">©IMOS 28-Sep-2011 00:43:49</text>
</svg></body></html>
